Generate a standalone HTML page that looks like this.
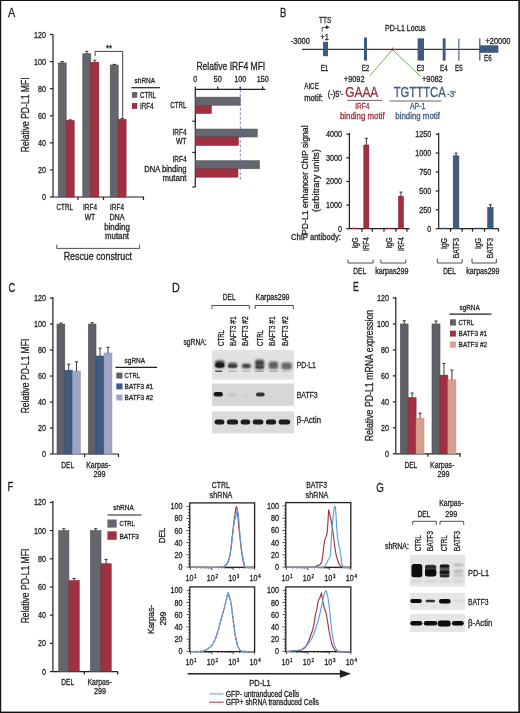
<!DOCTYPE html>
<html><head><meta charset="utf-8"><style>
html,body{margin:0;padding:0;background:#fff;}
body{width:520px;height:713px;overflow:hidden;font-family:"Liberation Sans",sans-serif;}
svg{display:block;opacity:0.999;}
</style></head><body>
<svg width="520" height="713" viewBox="0 0 520 713" font-family="Liberation Sans, sans-serif">
<defs><filter id="b1" x="-50%" y="-50%" width="200%" height="200%"><feGaussianBlur stdDeviation="0.9"/></filter><filter id="b2" x="-50%" y="-50%" width="200%" height="200%"><feGaussianBlur stdDeviation="1.5"/></filter><filter id="b3" x="-50%" y="-50%" width="200%" height="200%"><feGaussianBlur stdDeviation="0.6"/></filter></defs>
<rect x="0" y="0" width="520" height="713" fill="#ffffff"/>
<text transform="translate(8 16.55) scale(0.85 1)" font-size="12.72" text-anchor="start" fill="#231f20" stroke="#231f20" stroke-width="0.3">A</text>
<line x1="53" y1="34.5" x2="53" y2="197" stroke="#231f20" stroke-width="1.2"/>
<line x1="50" y1="197" x2="53" y2="197" stroke="#231f20" stroke-width="1.2"/>
<text transform="translate(46 200.04) scale(0.85 1)" font-size="8.48" text-anchor="end" fill="#231f20" stroke="#231f20" stroke-width="0.3">0</text>
<line x1="50" y1="169.92" x2="53" y2="169.92" stroke="#231f20" stroke-width="1.2"/>
<text transform="translate(46 172.95) scale(0.85 1)" font-size="8.48" text-anchor="end" fill="#231f20" stroke="#231f20" stroke-width="0.3">20</text>
<line x1="50" y1="142.83" x2="53" y2="142.83" stroke="#231f20" stroke-width="1.2"/>
<text transform="translate(46 145.87) scale(0.85 1)" font-size="8.48" text-anchor="end" fill="#231f20" stroke="#231f20" stroke-width="0.3">40</text>
<line x1="50" y1="115.75" x2="53" y2="115.75" stroke="#231f20" stroke-width="1.2"/>
<text transform="translate(46 118.79) scale(0.85 1)" font-size="8.48" text-anchor="end" fill="#231f20" stroke="#231f20" stroke-width="0.3">60</text>
<line x1="50" y1="88.67" x2="53" y2="88.67" stroke="#231f20" stroke-width="1.2"/>
<text transform="translate(46 91.7) scale(0.85 1)" font-size="8.48" text-anchor="end" fill="#231f20" stroke="#231f20" stroke-width="0.3">80</text>
<line x1="50" y1="61.58" x2="53" y2="61.58" stroke="#231f20" stroke-width="1.2"/>
<text transform="translate(46 64.62) scale(0.85 1)" font-size="8.48" text-anchor="end" fill="#231f20" stroke="#231f20" stroke-width="0.3">100</text>
<line x1="50" y1="34.5" x2="53" y2="34.5" stroke="#231f20" stroke-width="1.2"/>
<text transform="translate(46 37.54) scale(0.85 1)" font-size="8.48" text-anchor="end" fill="#231f20" stroke="#231f20" stroke-width="0.3">120</text>
<line x1="53" y1="197" x2="144" y2="197" stroke="#231f20" stroke-width="1.2"/>
<line x1="78" y1="197" x2="78" y2="200" stroke="#231f20" stroke-width="1.2"/>
<line x1="103.5" y1="197" x2="103.5" y2="200" stroke="#231f20" stroke-width="1.2"/>
<line x1="143.5" y1="197" x2="143.5" y2="200" stroke="#231f20" stroke-width="1.2"/>
<rect x="58.2" y="62.94" width="8" height="134.06" fill="#63666d" stroke="#4f5259" stroke-width="0.6"/>
<line x1="62.2" y1="62.94" x2="62.2" y2="61.5" stroke="#231f20" stroke-width="0.9"/>
<line x1="60.6" y1="61.5" x2="63.8" y2="61.5" stroke="#231f20" stroke-width="0.9"/>
<rect x="66.2" y="120.62" width="8" height="76.38" fill="#a03141" stroke="#8a2033" stroke-width="0.6"/>
<line x1="70.2" y1="120.62" x2="70.2" y2="119.83" stroke="#231f20" stroke-width="0.9"/>
<line x1="68.6" y1="119.83" x2="71.8" y2="119.83" stroke="#231f20" stroke-width="0.9"/>
<rect x="82.8" y="53.73" width="8" height="143.27" fill="#63666d" stroke="#4f5259" stroke-width="0.6"/>
<line x1="86.8" y1="53.73" x2="86.8" y2="51.3" stroke="#231f20" stroke-width="0.9"/>
<line x1="85.2" y1="51.3" x2="88.4" y2="51.3" stroke="#231f20" stroke-width="0.9"/>
<rect x="90.8" y="62.26" width="8" height="134.74" fill="#a03141" stroke="#8a2033" stroke-width="0.6"/>
<line x1="94.8" y1="62.26" x2="94.8" y2="60.2" stroke="#231f20" stroke-width="0.9"/>
<line x1="93.2" y1="60.2" x2="96.4" y2="60.2" stroke="#231f20" stroke-width="0.9"/>
<rect x="110.2" y="64.97" width="8" height="132.03" fill="#63666d" stroke="#4f5259" stroke-width="0.6"/>
<line x1="114.2" y1="64.97" x2="114.2" y2="64.37" stroke="#231f20" stroke-width="0.9"/>
<line x1="112.6" y1="64.37" x2="115.8" y2="64.37" stroke="#231f20" stroke-width="0.9"/>
<rect x="118.2" y="119.41" width="7.9" height="77.59" fill="#a03141" stroke="#8a2033" stroke-width="0.6"/>
<line x1="122.15" y1="119.41" x2="122.15" y2="118.41" stroke="#231f20" stroke-width="0.9"/>
<line x1="120.55" y1="118.41" x2="123.75" y2="118.41" stroke="#231f20" stroke-width="0.9"/>
<path d="M95.1 56 V51.4 H122.7 V117.7" stroke="#231f20" stroke-width="0.85" fill="none"/>
<text transform="translate(108.9 51.43) scale(0.86 1)" font-size="9.01" text-anchor="middle" fill="#231f20" stroke="#231f20" stroke-width="0.3">**</text>
<text transform="translate(134.6 82.85) scale(0.81 1)" font-size="7.95" text-anchor="start" fill="#231f20" stroke="#231f20" stroke-width="0.3">shRNA</text>
<line x1="131.4" y1="87.7" x2="160" y2="87.7" stroke="#231f20" stroke-width="1.2"/>
<rect x="131.9" y="92" width="5.3" height="5.8" fill="#63666d"/>
<rect x="131.9" y="103" width="5.3" height="5.9" fill="#a03141"/>
<text transform="translate(140 97.96) scale(0.74 1)" font-size="8.27" text-anchor="start" fill="#231f20" stroke="#231f20" stroke-width="0.3">CTRL</text>
<text transform="translate(140 108.96) scale(0.76 1)" font-size="8.27" text-anchor="start" fill="#231f20" stroke="#231f20" stroke-width="0.3">IRF4</text>
<text transform="translate(64.7 210.04) scale(0.74 1)" font-size="8.48" text-anchor="middle" fill="#231f20" stroke="#231f20" stroke-width="0.3">CTRL</text>
<text transform="translate(90 210.04) scale(0.76 1)" font-size="8.48" text-anchor="middle" fill="#231f20" stroke="#231f20" stroke-width="0.3">IRF4</text>
<text transform="translate(90 219.84) scale(0.8 1)" font-size="8.48" text-anchor="middle" fill="#231f20" stroke="#231f20" stroke-width="0.3">WT</text>
<text transform="translate(117 210.04) scale(0.76 1)" font-size="8.48" text-anchor="middle" fill="#231f20" stroke="#231f20" stroke-width="0.3">IRF4</text>
<text transform="translate(117 219.84) scale(0.85 1)" font-size="8.48" text-anchor="middle" fill="#231f20" stroke="#231f20" stroke-width="0.3">DNA</text>
<text transform="translate(117 229.64) scale(0.94 1)" font-size="8.48" text-anchor="middle" fill="#231f20" stroke="#231f20" stroke-width="0.3">binding</text>
<text transform="translate(117 239.44) scale(0.93 1)" font-size="8.48" text-anchor="middle" fill="#231f20" stroke="#231f20" stroke-width="0.3">mutant</text>
<path d="M56.8 244.6 V248.4 H139.6 V244.6" stroke="#231f20" stroke-width="0.8" fill="none"/>
<text transform="translate(97.85 259.84) scale(0.87 1)" font-size="10.18" text-anchor="middle" fill="#231f20" stroke="#231f20" stroke-width="0.3">Rescue construct</text>
<text transform="translate(25 114.8) rotate(-90) scale(0.77 1)" x="0" y="3.98" font-size="11.13" text-anchor="middle" fill="#231f20" stroke="#231f20" stroke-width="0.3">Relative PD-L1 MFI</text>
<text transform="translate(196.4 69.64) scale(0.84 1)" font-size="10.18" text-anchor="start" fill="#231f20" stroke="#231f20" stroke-width="0.3">Relative IRF4 MFI</text>
<line x1="195.3" y1="89.4" x2="265.4" y2="89.4" stroke="#231f20" stroke-width="1.2"/>
<line x1="195.3" y1="86.4" x2="195.3" y2="89.4" stroke="#231f20" stroke-width="1.2"/>
<text transform="translate(195.3 81.74) scale(0.85 1)" font-size="8.48" text-anchor="middle" fill="#231f20" stroke="#231f20" stroke-width="0.3">0</text>
<line x1="217.75" y1="86.4" x2="217.75" y2="89.4" stroke="#231f20" stroke-width="1.2"/>
<text transform="translate(217.75 81.74) scale(0.85 1)" font-size="8.48" text-anchor="middle" fill="#231f20" stroke="#231f20" stroke-width="0.3">50</text>
<line x1="240.2" y1="86.4" x2="240.2" y2="89.4" stroke="#231f20" stroke-width="1.2"/>
<text transform="translate(240.2 81.74) scale(0.85 1)" font-size="8.48" text-anchor="middle" fill="#231f20" stroke="#231f20" stroke-width="0.3">100</text>
<line x1="262.65" y1="86.4" x2="262.65" y2="89.4" stroke="#231f20" stroke-width="1.2"/>
<text transform="translate(262.65 81.74) scale(0.85 1)" font-size="8.48" text-anchor="middle" fill="#231f20" stroke="#231f20" stroke-width="0.3">150</text>
<line x1="195.3" y1="89.4" x2="195.3" y2="187" stroke="#231f20" stroke-width="1.2"/>
<line x1="192.3" y1="121.2" x2="195.3" y2="121.2" stroke="#231f20" stroke-width="1.2"/>
<line x1="192.3" y1="152.4" x2="195.3" y2="152.4" stroke="#231f20" stroke-width="1.2"/>
<line x1="192.3" y1="187" x2="195.3" y2="187" stroke="#231f20" stroke-width="1.2"/>
<rect x="195.3" y="97.1" width="44.9" height="8.2" fill="#63666d" stroke="#4f5259" stroke-width="0.5"/>
<rect x="195.3" y="105.3" width="16.2" height="8.2" fill="#a03141" stroke="#8a2033" stroke-width="0.5"/>
<rect x="195.3" y="129" width="62" height="8" fill="#63666d" stroke="#4f5259" stroke-width="0.5"/>
<rect x="195.3" y="137" width="43.2" height="8.5" fill="#a03141" stroke="#8a2033" stroke-width="0.5"/>
<rect x="195.3" y="160.6" width="64.2" height="8.2" fill="#63666d" stroke="#4f5259" stroke-width="0.5"/>
<rect x="195.3" y="168.8" width="42.7" height="8.4" fill="#a03141" stroke="#8a2033" stroke-width="0.5"/>
<line x1="240.3" y1="89.4" x2="240.3" y2="181.6" stroke="#5070a8" stroke-width="0.8" stroke-dasharray="2.8 1.8"/>
<text transform="translate(186.5 107.84) scale(0.74 1)" font-size="8.48" text-anchor="end" fill="#231f20" stroke="#231f20" stroke-width="0.3">CTRL</text>
<text transform="translate(186.5 135.34) scale(0.76 1)" font-size="8.48" text-anchor="end" fill="#231f20" stroke="#231f20" stroke-width="0.3">IRF4</text>
<text transform="translate(186.5 144.14) scale(0.8 1)" font-size="8.48" text-anchor="end" fill="#231f20" stroke="#231f20" stroke-width="0.3">WT</text>
<text transform="translate(186.5 161.84) scale(0.76 1)" font-size="8.48" text-anchor="end" fill="#231f20" stroke="#231f20" stroke-width="0.3">IRF4</text>
<text transform="translate(186.5 171.84) scale(0.9 1)" font-size="8.48" text-anchor="end" fill="#231f20" stroke="#231f20" stroke-width="0.3">DNA binding</text>
<text transform="translate(186.5 180.84) scale(0.93 1)" font-size="8.48" text-anchor="end" fill="#231f20" stroke="#231f20" stroke-width="0.3">mutant</text>
<text transform="translate(283.3 16.65) scale(0.75 1)" font-size="12.72" text-anchor="middle" fill="#231f20" stroke="#231f20" stroke-width="0.3">B</text>
<line x1="302" y1="49.3" x2="498" y2="49.3" stroke="#38383b" stroke-width="1.2"/>
<text transform="translate(300.3 43.94) scale(0.88 1)" font-size="8.48" text-anchor="middle" fill="#231f20" stroke="#231f20" stroke-width="0.3">-3000</text>
<text transform="translate(325.1 23.16) scale(0.78 1)" font-size="8.27" text-anchor="middle" fill="#231f20" stroke="#231f20" stroke-width="0.3">TTS</text>
<path d="M322.2 31.7 V27.3 H326.5" stroke="#231f20" stroke-width="0.8" fill="none"/>
<path d="M326 25.6 L329.4 27.3 L326 29 Z" stroke="#231f20" stroke-width="0.3" fill="#231f20"/>
<text transform="translate(324.6 40.34) scale(0.86 1)" font-size="8.48" text-anchor="middle" fill="#231f20" stroke="#231f20" stroke-width="0.3">+1</text>
<rect x="323" y="41.8" width="5" height="14.4" fill="#3e5a7e"/>
<rect x="364" y="37.5" width="3" height="23.1" fill="#3e5a7e"/>
<rect x="417.6" y="38.4" width="6.4" height="22.2" fill="#3e5a7e"/>
<rect x="442.7" y="38.4" width="2.9" height="22.2" fill="#3e5a7e"/>
<rect x="458.3" y="38.4" width="1.1" height="22.2" fill="#3e5a7e"/>
<rect x="479.2" y="38.4" width="1.2" height="22.2" fill="#3e5a7e"/>
<rect x="479.6" y="45.3" width="18.8" height="7.5" fill="#3e5a7e"/>
<text transform="translate(405.3 30.96) scale(0.85 1)" font-size="8.27" text-anchor="middle" fill="#231f20" stroke="#231f20" stroke-width="0.3">PD-L1 Locus</text>
<text transform="translate(485.4 44.24) scale(0.88 1)" font-size="8.48" text-anchor="start" fill="#231f20" stroke="#231f20" stroke-width="0.3">+20000</text>
<text transform="translate(324.5 71.16) scale(0.76 1)" font-size="8.27" text-anchor="middle" fill="#231f20" stroke="#231f20" stroke-width="0.3">E1</text>
<text transform="translate(365.5 71.16) scale(0.76 1)" font-size="8.27" text-anchor="middle" fill="#231f20" stroke="#231f20" stroke-width="0.3">E2</text>
<text transform="translate(420.5 71.16) scale(0.76 1)" font-size="8.27" text-anchor="middle" fill="#231f20" stroke="#231f20" stroke-width="0.3">E3</text>
<text transform="translate(443.8 71.16) scale(0.76 1)" font-size="8.27" text-anchor="middle" fill="#231f20" stroke="#231f20" stroke-width="0.3">E4</text>
<text transform="translate(458.8 71.16) scale(0.76 1)" font-size="8.27" text-anchor="middle" fill="#231f20" stroke="#231f20" stroke-width="0.3">E5</text>
<text transform="translate(484 60.86) scale(0.76 1)" font-size="8.27" text-anchor="start" fill="#231f20" stroke="#231f20" stroke-width="0.3">E6</text>
<line x1="369.8" y1="75.9" x2="392.5" y2="49.6" stroke="#62a83a" stroke-width="0.9"/>
<line x1="392.5" y1="49.6" x2="420.5" y2="76.4" stroke="#62a83a" stroke-width="0.9"/>
<line x1="392.5" y1="47.6" x2="392.5" y2="50.5" stroke="#b03040" stroke-width="0.9"/>
<text transform="translate(354.2 81.54) scale(0.87 1)" font-size="8.48" text-anchor="middle" fill="#231f20" stroke="#231f20" stroke-width="0.3">+9092</text>
<text transform="translate(422 81.54) scale(0.87 1)" font-size="8.48" text-anchor="start" fill="#231f20" stroke="#231f20" stroke-width="0.3">+9082</text>
<text transform="translate(304.2 89.36) scale(0.76 1)" font-size="8.27" text-anchor="start" fill="#231f20" stroke="#231f20" stroke-width="0.3">AICE</text>
<text transform="translate(304.2 100.76) scale(0.93 1)" font-size="8.27" text-anchor="start" fill="#231f20" stroke="#231f20" stroke-width="0.3">motif:</text>
<text transform="translate(327.7 96.54) scale(0.89 1)" font-size="8.48" text-anchor="start" fill="#231f20" stroke="#231f20" stroke-width="0.3">(-)5'-</text>
<text transform="translate(345.3 96.82) scale(0.83 1)" font-size="14.31" text-anchor="start" fill="#a03141" stroke="#a03141" stroke-width="0.3">GAAA</text>
<line x1="347.3" y1="100.4" x2="382.2" y2="100.4" stroke="#555" stroke-width="0.9"/>
<text transform="translate(362.3 109.34) scale(0.76 1)" font-size="8.48" text-anchor="middle" fill="#a03141" stroke="#a03141" stroke-width="0.3">IRF4</text>
<text transform="translate(362.3 119.04) scale(0.93 1)" font-size="8.48" text-anchor="middle" fill="#a03141" stroke="#a03141" stroke-width="0.3">binding motif</text>
<text transform="translate(393.7 96.82) scale(0.79 1)" font-size="14.31" text-anchor="start" fill="#3f5b80" stroke="#3f5b80" stroke-width="0.3">TGTTTCA</text>
<text transform="translate(447 96.54) scale(0.96 1)" font-size="8.48" text-anchor="start" fill="#3f5b80" stroke="#3f5b80" stroke-width="0.3">-3'</text>
<line x1="389.6" y1="101" x2="441.5" y2="101" stroke="#555" stroke-width="0.9"/>
<text transform="translate(417.6 109.34) scale(0.82 1)" font-size="8.48" text-anchor="middle" fill="#3f5b80" stroke="#3f5b80" stroke-width="0.3">AP-1</text>
<text transform="translate(417.6 119.04) scale(0.93 1)" font-size="8.48" text-anchor="middle" fill="#3f5b80" stroke="#3f5b80" stroke-width="0.3">binding motif</text>
<line x1="349.4" y1="132.9" x2="349.4" y2="228.7" stroke="#231f20" stroke-width="1.2"/>
<line x1="346.4" y1="228.7" x2="349.4" y2="228.7" stroke="#231f20" stroke-width="1.2"/>
<text transform="translate(342.1 231.74) scale(0.85 1)" font-size="8.48" text-anchor="end" fill="#231f20" stroke="#231f20" stroke-width="0.3">0</text>
<line x1="346.4" y1="205.07" x2="349.4" y2="205.07" stroke="#231f20" stroke-width="1.2"/>
<text transform="translate(342.1 208.11) scale(0.85 1)" font-size="8.48" text-anchor="end" fill="#231f20" stroke="#231f20" stroke-width="0.3">1000</text>
<line x1="346.4" y1="181.45" x2="349.4" y2="181.45" stroke="#231f20" stroke-width="1.2"/>
<text transform="translate(342.1 184.49) scale(0.85 1)" font-size="8.48" text-anchor="end" fill="#231f20" stroke="#231f20" stroke-width="0.3">2000</text>
<line x1="346.4" y1="157.82" x2="349.4" y2="157.82" stroke="#231f20" stroke-width="1.2"/>
<text transform="translate(342.1 160.86) scale(0.85 1)" font-size="8.48" text-anchor="end" fill="#231f20" stroke="#231f20" stroke-width="0.3">3000</text>
<line x1="346.4" y1="134.2" x2="349.4" y2="134.2" stroke="#231f20" stroke-width="1.2"/>
<text transform="translate(342.1 137.24) scale(0.85 1)" font-size="8.48" text-anchor="end" fill="#231f20" stroke="#231f20" stroke-width="0.3">4000</text>
<line x1="349.4" y1="228.7" x2="409.5" y2="228.7" stroke="#231f20" stroke-width="1.2"/>
<line x1="362" y1="228.7" x2="362" y2="231.7" stroke="#231f20" stroke-width="1.2"/>
<line x1="372.3" y1="228.7" x2="372.3" y2="231.7" stroke="#231f20" stroke-width="1.2"/>
<line x1="384" y1="228.7" x2="384" y2="231.7" stroke="#231f20" stroke-width="1.2"/>
<line x1="396" y1="228.7" x2="396" y2="231.7" stroke="#231f20" stroke-width="1.2"/>
<line x1="407" y1="228.7" x2="407" y2="231.7" stroke="#231f20" stroke-width="1.2"/>
<rect x="352.3" y="228.11" width="5.9" height="0.59" fill="#a03141" stroke="#8a2033" stroke-width="0.6"/>
<rect x="363.8" y="145.02" width="5.1" height="83.68" fill="#a03141" stroke="#8a2033" stroke-width="0.6"/>
<line x1="366.35" y1="145.02" x2="366.35" y2="138.3" stroke="#231f20" stroke-width="0.9"/>
<line x1="364.75" y1="138.3" x2="367.95" y2="138.3" stroke="#231f20" stroke-width="0.9"/>
<rect x="386.2" y="228.11" width="5.3" height="0.59" fill="#a03141" stroke="#8a2033" stroke-width="0.6"/>
<rect x="398.5" y="196.22" width="4.9" height="32.48" fill="#a03141" stroke="#8a2033" stroke-width="0.6"/>
<line x1="400.95" y1="196.22" x2="400.95" y2="192.1" stroke="#231f20" stroke-width="0.9"/>
<line x1="399.35" y1="192.1" x2="402.55" y2="192.1" stroke="#231f20" stroke-width="0.9"/>
<text transform="translate(355.4 237.3) rotate(-90) scale(0.83 1)" x="0" y="2.96" font-size="8.27" text-anchor="end" fill="#231f20" stroke="#231f20" stroke-width="0.3">IgG</text>
<text transform="translate(366.5 237.3) rotate(-90) scale(0.76 1)" x="0" y="2.96" font-size="8.27" text-anchor="end" fill="#231f20" stroke="#231f20" stroke-width="0.3">IRF4</text>
<text transform="translate(389.2 237.3) rotate(-90) scale(0.83 1)" x="0" y="2.96" font-size="8.27" text-anchor="end" fill="#231f20" stroke="#231f20" stroke-width="0.3">IgG</text>
<text transform="translate(400.8 237.3) rotate(-90) scale(0.76 1)" x="0" y="2.96" font-size="8.27" text-anchor="end" fill="#231f20" stroke="#231f20" stroke-width="0.3">IRF4</text>
<path d="M348 259.6 V263 H373.1 V259.6" stroke="#231f20" stroke-width="0.8" fill="none"/>
<path d="M380.8 259.6 V263 H405.8 V259.6" stroke="#231f20" stroke-width="0.8" fill="none"/>
<text transform="translate(359.7 273.74) scale(0.77 1)" font-size="8.48" text-anchor="middle" fill="#231f20" stroke="#231f20" stroke-width="0.3">DEL</text>
<text transform="translate(391.8 273.74) scale(0.84 1)" font-size="8.48" text-anchor="middle" fill="#231f20" stroke="#231f20" stroke-width="0.3">karpas299</text>
<text transform="translate(291 240.14) scale(0.9 1)" font-size="8.48" text-anchor="start" fill="#231f20" stroke="#231f20" stroke-width="0.3">ChIP antibody:</text>
<text transform="translate(304.4 180.2) rotate(-90) scale(0.88 1)" x="0" y="3.53" font-size="9.86" text-anchor="middle" fill="#231f20" stroke="#231f20" stroke-width="0.3">PD-L1 enhancer ChIP signal</text>
<text transform="translate(315.6 180.6) rotate(-90) scale(0.95 1)" x="0" y="3.53" font-size="9.86" text-anchor="middle" fill="#231f20" stroke="#231f20" stroke-width="0.3">(arbitrary units)</text>
<line x1="438.7" y1="132.9" x2="438.7" y2="228.7" stroke="#231f20" stroke-width="1.2"/>
<line x1="435.7" y1="228.7" x2="438.7" y2="228.7" stroke="#231f20" stroke-width="1.2"/>
<text transform="translate(431.2 231.74) scale(0.85 1)" font-size="8.48" text-anchor="end" fill="#231f20" stroke="#231f20" stroke-width="0.3">0</text>
<line x1="435.7" y1="209.8" x2="438.7" y2="209.8" stroke="#231f20" stroke-width="1.2"/>
<text transform="translate(431.2 212.84) scale(0.85 1)" font-size="8.48" text-anchor="end" fill="#231f20" stroke="#231f20" stroke-width="0.3">250</text>
<line x1="435.7" y1="190.9" x2="438.7" y2="190.9" stroke="#231f20" stroke-width="1.2"/>
<text transform="translate(431.2 193.94) scale(0.85 1)" font-size="8.48" text-anchor="end" fill="#231f20" stroke="#231f20" stroke-width="0.3">500</text>
<line x1="435.7" y1="172" x2="438.7" y2="172" stroke="#231f20" stroke-width="1.2"/>
<text transform="translate(431.2 175.04) scale(0.85 1)" font-size="8.48" text-anchor="end" fill="#231f20" stroke="#231f20" stroke-width="0.3">750</text>
<line x1="435.7" y1="153.1" x2="438.7" y2="153.1" stroke="#231f20" stroke-width="1.2"/>
<text transform="translate(431.2 156.14) scale(0.85 1)" font-size="8.48" text-anchor="end" fill="#231f20" stroke="#231f20" stroke-width="0.3">1000</text>
<line x1="435.7" y1="134.2" x2="438.7" y2="134.2" stroke="#231f20" stroke-width="1.2"/>
<text transform="translate(431.2 137.24) scale(0.85 1)" font-size="8.48" text-anchor="end" fill="#231f20" stroke="#231f20" stroke-width="0.3">1250</text>
<line x1="438.7" y1="228.7" x2="498.5" y2="228.7" stroke="#231f20" stroke-width="1.2"/>
<line x1="450.5" y1="228.7" x2="450.5" y2="231.7" stroke="#231f20" stroke-width="1.2"/>
<line x1="462.2" y1="228.7" x2="462.2" y2="231.7" stroke="#231f20" stroke-width="1.2"/>
<line x1="472.5" y1="228.7" x2="472.5" y2="231.7" stroke="#231f20" stroke-width="1.2"/>
<line x1="484.5" y1="228.7" x2="484.5" y2="231.7" stroke="#231f20" stroke-width="1.2"/>
<line x1="498.5" y1="228.7" x2="498.5" y2="231.7" stroke="#231f20" stroke-width="1.2"/>
<rect x="441.4" y="228.1" width="5.4" height="0.6" fill="#3f5b80" stroke="#324b6d" stroke-width="0.6"/>
<rect x="453.2" y="155.82" width="5.7" height="72.88" fill="#3f5b80" stroke="#324b6d" stroke-width="0.6"/>
<line x1="456.05" y1="155.82" x2="456.05" y2="153.1" stroke="#231f20" stroke-width="0.9"/>
<line x1="454.45" y1="153.1" x2="457.65" y2="153.1" stroke="#231f20" stroke-width="0.9"/>
<rect x="475.6" y="228.1" width="5.4" height="0.6" fill="#3f5b80" stroke="#324b6d" stroke-width="0.6"/>
<rect x="487.7" y="207.53" width="5.4" height="21.17" fill="#3f5b80" stroke="#324b6d" stroke-width="0.6"/>
<line x1="490.4" y1="207.53" x2="490.4" y2="204.8" stroke="#231f20" stroke-width="0.9"/>
<line x1="488.8" y1="204.8" x2="492" y2="204.8" stroke="#231f20" stroke-width="0.9"/>
<text transform="translate(444.1 237.9) rotate(-90) scale(0.83 1)" x="0" y="2.96" font-size="8.27" text-anchor="end" fill="#231f20" stroke="#231f20" stroke-width="0.3">IgG</text>
<text transform="translate(456.2 237.9) rotate(-90) scale(0.81 1)" x="0" y="2.96" font-size="8.27" text-anchor="end" fill="#231f20" stroke="#231f20" stroke-width="0.3">BATF3</text>
<text transform="translate(478.3 237.9) rotate(-90) scale(0.83 1)" x="0" y="2.96" font-size="8.27" text-anchor="end" fill="#231f20" stroke="#231f20" stroke-width="0.3">IgG</text>
<text transform="translate(490.4 237.9) rotate(-90) scale(0.81 1)" x="0" y="2.96" font-size="8.27" text-anchor="end" fill="#231f20" stroke="#231f20" stroke-width="0.3">BATF3</text>
<path d="M437.3 258.6 V263 H462.1 V258.6" stroke="#231f20" stroke-width="0.8" fill="none"/>
<path d="M472 258.6 V263 H496.3 V258.6" stroke="#231f20" stroke-width="0.8" fill="none"/>
<text transform="translate(449.5 273.74) scale(0.77 1)" font-size="8.48" text-anchor="middle" fill="#231f20" stroke="#231f20" stroke-width="0.3">DEL</text>
<text transform="translate(482.9 273.74) scale(0.84 1)" font-size="8.48" text-anchor="middle" fill="#231f20" stroke="#231f20" stroke-width="0.3">karpas299</text>
<text transform="translate(8.6 291.85) scale(0.74 1)" font-size="12.72" text-anchor="start" fill="#231f20" stroke="#231f20" stroke-width="0.3">C</text>
<line x1="52.9" y1="297" x2="52.9" y2="454" stroke="#231f20" stroke-width="1.2"/>
<line x1="49.9" y1="454" x2="52.9" y2="454" stroke="#231f20" stroke-width="1.2"/>
<text transform="translate(46 457.04) scale(0.85 1)" font-size="8.48" text-anchor="end" fill="#231f20" stroke="#231f20" stroke-width="0.3">0</text>
<line x1="49.9" y1="428.02" x2="52.9" y2="428.02" stroke="#231f20" stroke-width="1.2"/>
<text transform="translate(46 431.05) scale(0.85 1)" font-size="8.48" text-anchor="end" fill="#231f20" stroke="#231f20" stroke-width="0.3">20</text>
<line x1="49.9" y1="402.03" x2="52.9" y2="402.03" stroke="#231f20" stroke-width="1.2"/>
<text transform="translate(46 405.07) scale(0.85 1)" font-size="8.48" text-anchor="end" fill="#231f20" stroke="#231f20" stroke-width="0.3">40</text>
<line x1="49.9" y1="376.05" x2="52.9" y2="376.05" stroke="#231f20" stroke-width="1.2"/>
<text transform="translate(46 379.09) scale(0.85 1)" font-size="8.48" text-anchor="end" fill="#231f20" stroke="#231f20" stroke-width="0.3">60</text>
<line x1="49.9" y1="350.07" x2="52.9" y2="350.07" stroke="#231f20" stroke-width="1.2"/>
<text transform="translate(46 353.1) scale(0.85 1)" font-size="8.48" text-anchor="end" fill="#231f20" stroke="#231f20" stroke-width="0.3">80</text>
<line x1="49.9" y1="324.08" x2="52.9" y2="324.08" stroke="#231f20" stroke-width="1.2"/>
<text transform="translate(46 327.12) scale(0.85 1)" font-size="8.48" text-anchor="end" fill="#231f20" stroke="#231f20" stroke-width="0.3">100</text>
<line x1="49.9" y1="298.1" x2="52.9" y2="298.1" stroke="#231f20" stroke-width="1.2"/>
<text transform="translate(46 301.14) scale(0.85 1)" font-size="8.48" text-anchor="end" fill="#231f20" stroke="#231f20" stroke-width="0.3">120</text>
<line x1="52.9" y1="454" x2="118.5" y2="454" stroke="#231f20" stroke-width="1.2"/>
<line x1="84.6" y1="454" x2="84.6" y2="457" stroke="#231f20" stroke-width="1.2"/>
<line x1="118.5" y1="454" x2="118.5" y2="457" stroke="#231f20" stroke-width="1.2"/>
<rect x="57" y="324.08" width="7.8" height="129.92" fill="#5f6168" stroke="#4d4f55" stroke-width="0.6"/>
<line x1="60.9" y1="324.08" x2="60.9" y2="323.08" stroke="#231f20" stroke-width="0.9"/>
<line x1="59.3" y1="323.08" x2="62.5" y2="323.08" stroke="#231f20" stroke-width="0.9"/>
<rect x="64.8" y="370.2" width="7.8" height="83.8" fill="#3f5b80" stroke="#324b6d" stroke-width="0.6"/>
<line x1="68.7" y1="370.2" x2="68.7" y2="364.2" stroke="#231f20" stroke-width="0.9"/>
<line x1="67.1" y1="364.2" x2="70.3" y2="364.2" stroke="#231f20" stroke-width="0.9"/>
<rect x="72.6" y="371.11" width="7.7" height="82.89" fill="#a0a4c6" stroke="#8f93b6" stroke-width="0.6"/>
<line x1="76.45" y1="371.11" x2="76.45" y2="361.8" stroke="#231f20" stroke-width="0.9"/>
<line x1="74.85" y1="361.8" x2="78.05" y2="361.8" stroke="#231f20" stroke-width="0.9"/>
<rect x="88.4" y="324.08" width="7.6" height="129.92" fill="#5f6168" stroke="#4d4f55" stroke-width="0.6"/>
<line x1="92.2" y1="324.08" x2="92.2" y2="322.7" stroke="#231f20" stroke-width="0.9"/>
<line x1="90.6" y1="322.7" x2="93.8" y2="322.7" stroke="#231f20" stroke-width="0.9"/>
<rect x="96" y="356.04" width="8.1" height="97.96" fill="#3f5b80" stroke="#324b6d" stroke-width="0.6"/>
<line x1="100.05" y1="356.04" x2="100.05" y2="348.2" stroke="#231f20" stroke-width="0.9"/>
<line x1="98.45" y1="348.2" x2="101.65" y2="348.2" stroke="#231f20" stroke-width="0.9"/>
<rect x="104.1" y="353.05" width="7.8" height="100.95" fill="#a0a4c6" stroke="#8f93b6" stroke-width="0.6"/>
<line x1="108" y1="353.05" x2="108" y2="347.3" stroke="#231f20" stroke-width="0.9"/>
<line x1="106.4" y1="347.3" x2="109.6" y2="347.3" stroke="#231f20" stroke-width="0.9"/>
<text transform="translate(134.8 363.35) scale(0.81 1)" font-size="7.95" text-anchor="middle" fill="#231f20" stroke="#231f20" stroke-width="0.3">sgRNA</text>
<line x1="115.4" y1="367.3" x2="157" y2="367.3" stroke="#231f20" stroke-width="1.2"/>
<rect x="116.3" y="372.6" width="6.2" height="6" fill="#5f6168"/>
<rect x="116.3" y="383.4" width="6.2" height="6" fill="#3f5b80"/>
<rect x="116.3" y="394.5" width="6.2" height="6" fill="#a0a4c6"/>
<text transform="translate(124.6 378.45) scale(0.74 1)" font-size="7.95" text-anchor="start" fill="#231f20" stroke="#231f20" stroke-width="0.3">CTRL</text>
<text transform="translate(124.6 389.25) scale(0.81 1)" font-size="7.95" text-anchor="start" fill="#231f20" stroke="#231f20" stroke-width="0.3">BATF3 #1</text>
<text transform="translate(124.6 400.35) scale(0.81 1)" font-size="7.95" text-anchor="start" fill="#231f20" stroke="#231f20" stroke-width="0.3">BATF3 #2</text>
<text transform="translate(67.7 467.64) scale(0.77 1)" font-size="8.48" text-anchor="middle" fill="#231f20" stroke="#231f20" stroke-width="0.3">DEL</text>
<text transform="translate(98.4 467.64) scale(0.82 1)" font-size="8.48" text-anchor="middle" fill="#231f20" stroke="#231f20" stroke-width="0.3">Karpas-</text>
<text transform="translate(99.5 477.14) scale(0.85 1)" font-size="8.48" text-anchor="middle" fill="#231f20" stroke="#231f20" stroke-width="0.3">299</text>
<text transform="translate(25 376) rotate(-90) scale(0.77 1)" x="0" y="3.98" font-size="11.13" text-anchor="middle" fill="#231f20" stroke="#231f20" stroke-width="0.3">Relative PD-L1 MFI</text>
<text transform="translate(172.1 291.65) scale(0.85 1)" font-size="12.72" text-anchor="start" fill="#231f20" stroke="#231f20" stroke-width="0.3">D</text>
<text transform="translate(229.2 299.54) scale(0.77 1)" font-size="8.48" text-anchor="middle" fill="#231f20" stroke="#231f20" stroke-width="0.3">DEL</text>
<text transform="translate(272.5 299.54) scale(0.83 1)" font-size="8.48" text-anchor="middle" fill="#231f20" stroke="#231f20" stroke-width="0.3">Karpas299</text>
<path d="M211.9 309 V305.5 H249.3 V309" stroke="#231f20" stroke-width="0.8" fill="none"/>
<path d="M255.2 309 V305.5 H293.3 V309" stroke="#231f20" stroke-width="0.8" fill="none"/>
<text transform="translate(220.6 346) rotate(-90) scale(0.74 1)" x="0" y="2.96" font-size="8.27" text-anchor="start" fill="#231f20" stroke="#231f20" stroke-width="0.3">CTRL</text>
<text transform="translate(232.7 346) rotate(-90) scale(0.8 1)" x="0" y="2.96" font-size="8.27" text-anchor="start" fill="#231f20" stroke="#231f20" stroke-width="0.3">BAFT3 #1</text>
<text transform="translate(245.5 346) rotate(-90) scale(0.8 1)" x="0" y="2.96" font-size="8.27" text-anchor="start" fill="#231f20" stroke="#231f20" stroke-width="0.3">BAFT3 #2</text>
<text transform="translate(260.4 346) rotate(-90) scale(0.74 1)" x="0" y="2.96" font-size="8.27" text-anchor="start" fill="#231f20" stroke="#231f20" stroke-width="0.3">CTRL</text>
<text transform="translate(272.5 346) rotate(-90) scale(0.8 1)" x="0" y="2.96" font-size="8.27" text-anchor="start" fill="#231f20" stroke="#231f20" stroke-width="0.3">BAFT3 #1</text>
<text transform="translate(285.3 346) rotate(-90) scale(0.8 1)" x="0" y="2.96" font-size="8.27" text-anchor="start" fill="#231f20" stroke="#231f20" stroke-width="0.3">BAFT3 #2</text>
<text transform="translate(183.5 345.46) scale(0.81 1)" font-size="8.27" text-anchor="start" fill="#231f20" stroke="#231f20" stroke-width="0.3">sgRNA:</text>
<rect x="212" y="350" width="82" height="29.7" fill="#e3e2e3"/>
<rect x="212" y="383.4" width="82" height="22.5" fill="#d8d7d8"/>
<rect x="212" y="411.3" width="82" height="22.1" fill="#dcdbdc"/>
<rect x="215" y="360.6" width="9.6" height="7.4" rx="2.5" fill="#3a3a3a" opacity="1" filter="url(#b1)"/>
<rect x="215.3" y="362.9" width="9" height="4.6" rx="2.3" fill="#1a1a1a" opacity="1" filter="url(#b3)"/>
<rect x="227.9" y="362.5" width="9.4" height="5.6" rx="2.5" fill="#555555" opacity="1" filter="url(#b1)"/>
<rect x="228.2" y="364.8" width="8.8" height="2.8" rx="1.4" fill="#3a3a3a" opacity="1" filter="url(#b3)"/>
<rect x="241.8" y="363.8" width="9.2" height="4.4" rx="2.2" fill="#3a3a3a" opacity="1" filter="url(#b1)"/>
<rect x="255" y="359.4" width="9.2" height="10" rx="2.5" fill="#555555" opacity="1" filter="url(#b1)"/>
<rect x="256" y="361.5" width="7.5" height="3" rx="1.5" fill="#444444" opacity="1" filter="url(#b3)"/>
<rect x="256" y="365.75" width="7.5" height="2.5" rx="1.25" fill="#444444" opacity="1" filter="url(#b3)"/>
<rect x="268.7" y="361.55" width="9.4" height="7.5" rx="2.5" fill="#5e5e5e" opacity="1" filter="url(#b1)"/>
<rect x="281.4" y="362.5" width="10.5" height="7" rx="2.5" fill="#656565" opacity="1" filter="url(#b1)"/>
<rect x="215" y="370.6" width="7.5" height="1.4" rx="0.7" fill="#555" opacity="1" filter="url(#b3)"/>
<rect x="228" y="370.6" width="9" height="1.4" rx="0.7" fill="#b5b5b5" opacity="1" filter="url(#b3)"/>
<rect x="242" y="370.6" width="8" height="1.4" rx="0.7" fill="#bdbdbd" opacity="1" filter="url(#b3)"/>
<rect x="255" y="370.6" width="9" height="1.4" rx="0.7" fill="#a0a0a0" opacity="1" filter="url(#b3)"/>
<rect x="269" y="370.6" width="9" height="1.4" rx="0.7" fill="#b0b0b0" opacity="1" filter="url(#b3)"/>
<rect x="282" y="370.6" width="9" height="1.4" rx="0.7" fill="#c0c0c0" opacity="1" filter="url(#b3)"/>
<rect x="213.6" y="392.05" width="9.3" height="4.5" rx="2.25" fill="#151515" opacity="1" filter="url(#b3)"/>
<rect x="228" y="393.75" width="8" height="2.5" rx="1.25" fill="#bdbdbd" opacity="1" filter="url(#b1)"/>
<rect x="242" y="394.5" width="7" height="2" rx="1" fill="#c9c9c9" opacity="1" filter="url(#b1)"/>
<rect x="256" y="392.5" width="8.6" height="4" rx="2" fill="#333333" opacity="1" filter="url(#b3)"/>
<rect x="214.6" y="419.5" width="9.8" height="5" rx="2.5" fill="#1c1c1c" opacity="1" filter="url(#b3)"/>
<rect x="226.9" y="419.5" width="11.2" height="5" rx="2.5" fill="#1c1c1c" opacity="1" filter="url(#b3)"/>
<rect x="240.6" y="419.5" width="9.6" height="5" rx="2.5" fill="#1c1c1c" opacity="1" filter="url(#b3)"/>
<rect x="252.7" y="419.5" width="10.7" height="5" rx="2.5" fill="#1c1c1c" opacity="1" filter="url(#b3)"/>
<rect x="265.9" y="419.5" width="10.2" height="5" rx="2.5" fill="#1c1c1c" opacity="1" filter="url(#b3)"/>
<rect x="278.6" y="419.5" width="11.6" height="5" rx="2.5" fill="#1c1c1c" opacity="1" filter="url(#b3)"/>
<text transform="translate(296.7 367.76) scale(0.74 1)" font-size="9.12" text-anchor="start" fill="#231f20" stroke="#231f20" stroke-width="0.3">PD-L1</text>
<text transform="translate(296.7 397.76) scale(0.76 1)" font-size="9.12" text-anchor="start" fill="#231f20" stroke="#231f20" stroke-width="0.3">BATF3</text>
<text transform="translate(296.7 423.16) scale(0.85 1)" font-size="9.12" text-anchor="start" fill="#231f20" stroke="#231f20" stroke-width="0.3">β-Actin</text>
<text transform="translate(353 291.25) scale(0.68 1)" font-size="12.72" text-anchor="start" fill="#231f20" stroke="#231f20" stroke-width="0.3">E</text>
<line x1="395.8" y1="297" x2="395.8" y2="453.8" stroke="#231f20" stroke-width="1.2"/>
<line x1="392.8" y1="453.8" x2="395.8" y2="453.8" stroke="#231f20" stroke-width="1.2"/>
<text transform="translate(389 456.84) scale(0.85 1)" font-size="8.48" text-anchor="end" fill="#231f20" stroke="#231f20" stroke-width="0.3">0</text>
<line x1="392.8" y1="427.83" x2="395.8" y2="427.83" stroke="#231f20" stroke-width="1.2"/>
<text transform="translate(389 430.87) scale(0.85 1)" font-size="8.48" text-anchor="end" fill="#231f20" stroke="#231f20" stroke-width="0.3">20</text>
<line x1="392.8" y1="401.87" x2="395.8" y2="401.87" stroke="#231f20" stroke-width="1.2"/>
<text transform="translate(389 404.9) scale(0.85 1)" font-size="8.48" text-anchor="end" fill="#231f20" stroke="#231f20" stroke-width="0.3">40</text>
<line x1="392.8" y1="375.9" x2="395.8" y2="375.9" stroke="#231f20" stroke-width="1.2"/>
<text transform="translate(389 378.94) scale(0.85 1)" font-size="8.48" text-anchor="end" fill="#231f20" stroke="#231f20" stroke-width="0.3">60</text>
<line x1="392.8" y1="349.93" x2="395.8" y2="349.93" stroke="#231f20" stroke-width="1.2"/>
<text transform="translate(389 352.97) scale(0.85 1)" font-size="8.48" text-anchor="end" fill="#231f20" stroke="#231f20" stroke-width="0.3">80</text>
<line x1="392.8" y1="323.97" x2="395.8" y2="323.97" stroke="#231f20" stroke-width="1.2"/>
<text transform="translate(389 327) scale(0.85 1)" font-size="8.48" text-anchor="end" fill="#231f20" stroke="#231f20" stroke-width="0.3">100</text>
<line x1="392.8" y1="298" x2="395.8" y2="298" stroke="#231f20" stroke-width="1.2"/>
<text transform="translate(389 301.04) scale(0.85 1)" font-size="8.48" text-anchor="end" fill="#231f20" stroke="#231f20" stroke-width="0.3">120</text>
<line x1="395.8" y1="453.8" x2="460.5" y2="453.8" stroke="#231f20" stroke-width="1.2"/>
<line x1="427.9" y1="453.8" x2="427.9" y2="456.8" stroke="#231f20" stroke-width="1.2"/>
<line x1="460.2" y1="453.8" x2="460.2" y2="456.8" stroke="#231f20" stroke-width="1.2"/>
<rect x="400.4" y="323.97" width="7.7" height="129.83" fill="#5f6168" stroke="#4d4f55" stroke-width="0.6"/>
<line x1="404.25" y1="323.97" x2="404.25" y2="320.7" stroke="#231f20" stroke-width="0.9"/>
<line x1="402.65" y1="320.7" x2="405.85" y2="320.7" stroke="#231f20" stroke-width="0.9"/>
<rect x="408.1" y="397.71" width="8" height="56.09" fill="#a03141" stroke="#8a2033" stroke-width="0.6"/>
<line x1="412.1" y1="397.71" x2="412.1" y2="393" stroke="#231f20" stroke-width="0.9"/>
<line x1="410.5" y1="393" x2="413.7" y2="393" stroke="#231f20" stroke-width="0.9"/>
<rect x="416.1" y="418.23" width="7.9" height="35.57" fill="#d6a090" stroke="#c98d7c" stroke-width="0.6"/>
<line x1="420.05" y1="418.23" x2="420.05" y2="413.1" stroke="#231f20" stroke-width="0.9"/>
<line x1="418.45" y1="413.1" x2="421.65" y2="413.1" stroke="#231f20" stroke-width="0.9"/>
<rect x="432" y="323.97" width="8" height="129.83" fill="#5f6168" stroke="#4d4f55" stroke-width="0.6"/>
<line x1="436" y1="323.97" x2="436" y2="321" stroke="#231f20" stroke-width="0.9"/>
<line x1="434.4" y1="321" x2="437.6" y2="321" stroke="#231f20" stroke-width="0.9"/>
<rect x="440" y="375.12" width="7.9" height="78.68" fill="#a03141" stroke="#8a2033" stroke-width="0.6"/>
<line x1="443.95" y1="375.12" x2="443.95" y2="363.4" stroke="#231f20" stroke-width="0.9"/>
<line x1="442.35" y1="363.4" x2="445.55" y2="363.4" stroke="#231f20" stroke-width="0.9"/>
<rect x="447.9" y="379.8" width="8" height="74" fill="#d6a090" stroke="#c98d7c" stroke-width="0.6"/>
<line x1="451.9" y1="379.8" x2="451.9" y2="370" stroke="#231f20" stroke-width="0.9"/>
<line x1="450.3" y1="370" x2="453.5" y2="370" stroke="#231f20" stroke-width="0.9"/>
<text transform="translate(469.6 310.05) scale(0.81 1)" font-size="7.95" text-anchor="middle" fill="#231f20" stroke="#231f20" stroke-width="0.3">sgRNA</text>
<line x1="449.5" y1="314.1" x2="491.5" y2="314.1" stroke="#231f20" stroke-width="1.2"/>
<rect x="450" y="319.3" width="5.9" height="6.3" fill="#5f6168"/>
<rect x="450" y="330.7" width="5.9" height="5.9" fill="#a03141"/>
<rect x="450" y="341.5" width="5.9" height="6.1" fill="#d6a090"/>
<text transform="translate(458.6 324.65) scale(0.74 1)" font-size="7.95" text-anchor="start" fill="#231f20" stroke="#231f20" stroke-width="0.3">CTRL</text>
<text transform="translate(458.6 336.35) scale(0.81 1)" font-size="7.95" text-anchor="start" fill="#231f20" stroke="#231f20" stroke-width="0.3">BATF3 #1</text>
<text transform="translate(458.6 347.25) scale(0.81 1)" font-size="7.95" text-anchor="start" fill="#231f20" stroke="#231f20" stroke-width="0.3">BATF3 #2</text>
<text transform="translate(410.9 467.64) scale(0.77 1)" font-size="8.48" text-anchor="middle" fill="#231f20" stroke="#231f20" stroke-width="0.3">DEL</text>
<text transform="translate(442.2 467.64) scale(0.82 1)" font-size="8.48" text-anchor="middle" fill="#231f20" stroke="#231f20" stroke-width="0.3">Karpas-</text>
<text transform="translate(443.4 477.04) scale(0.85 1)" font-size="8.48" text-anchor="middle" fill="#231f20" stroke="#231f20" stroke-width="0.3">299</text>
<text transform="translate(369.5 375.5) rotate(-90) scale(0.81 1)" x="0" y="3.87" font-size="10.81" text-anchor="middle" fill="#231f20" stroke="#231f20" stroke-width="0.3">Relative PD-L1 mRNA expression</text>
<text transform="translate(7.5 490.95) scale(0.74 1)" font-size="12.72" text-anchor="start" fill="#231f20" stroke="#231f20" stroke-width="0.3">F</text>
<line x1="52.9" y1="501" x2="52.9" y2="671.6" stroke="#231f20" stroke-width="1.2"/>
<line x1="49.9" y1="671.6" x2="52.9" y2="671.6" stroke="#231f20" stroke-width="1.2"/>
<text transform="translate(46 674.64) scale(0.85 1)" font-size="8.48" text-anchor="end" fill="#231f20" stroke="#231f20" stroke-width="0.3">0</text>
<line x1="49.9" y1="643.4" x2="52.9" y2="643.4" stroke="#231f20" stroke-width="1.2"/>
<text transform="translate(46 646.44) scale(0.85 1)" font-size="8.48" text-anchor="end" fill="#231f20" stroke="#231f20" stroke-width="0.3">20</text>
<line x1="49.9" y1="615.2" x2="52.9" y2="615.2" stroke="#231f20" stroke-width="1.2"/>
<text transform="translate(46 618.24) scale(0.85 1)" font-size="8.48" text-anchor="end" fill="#231f20" stroke="#231f20" stroke-width="0.3">40</text>
<line x1="49.9" y1="587" x2="52.9" y2="587" stroke="#231f20" stroke-width="1.2"/>
<text transform="translate(46 590.04) scale(0.85 1)" font-size="8.48" text-anchor="end" fill="#231f20" stroke="#231f20" stroke-width="0.3">60</text>
<line x1="49.9" y1="558.8" x2="52.9" y2="558.8" stroke="#231f20" stroke-width="1.2"/>
<text transform="translate(46 561.84) scale(0.85 1)" font-size="8.48" text-anchor="end" fill="#231f20" stroke="#231f20" stroke-width="0.3">80</text>
<line x1="49.9" y1="530.6" x2="52.9" y2="530.6" stroke="#231f20" stroke-width="1.2"/>
<text transform="translate(46 533.64) scale(0.85 1)" font-size="8.48" text-anchor="end" fill="#231f20" stroke="#231f20" stroke-width="0.3">100</text>
<line x1="49.9" y1="502.4" x2="52.9" y2="502.4" stroke="#231f20" stroke-width="1.2"/>
<text transform="translate(46 505.44) scale(0.85 1)" font-size="8.48" text-anchor="end" fill="#231f20" stroke="#231f20" stroke-width="0.3">120</text>
<line x1="52.9" y1="671.6" x2="117.7" y2="671.6" stroke="#231f20" stroke-width="1.2"/>
<line x1="84.3" y1="671.6" x2="84.3" y2="674.6" stroke="#231f20" stroke-width="1.2"/>
<line x1="117.7" y1="671.6" x2="117.7" y2="674.6" stroke="#231f20" stroke-width="1.2"/>
<rect x="58.7" y="530.6" width="10.2" height="141" fill="#63666d" stroke="#4f5259" stroke-width="0.6"/>
<line x1="63.8" y1="530.6" x2="63.8" y2="528.7" stroke="#231f20" stroke-width="0.9"/>
<line x1="62.2" y1="528.7" x2="65.4" y2="528.7" stroke="#231f20" stroke-width="0.9"/>
<rect x="68.9" y="580.65" width="10.3" height="90.95" fill="#a03141" stroke="#8a2033" stroke-width="0.6"/>
<line x1="74.05" y1="580.65" x2="74.05" y2="578.5" stroke="#231f20" stroke-width="0.9"/>
<line x1="72.45" y1="578.5" x2="75.65" y2="578.5" stroke="#231f20" stroke-width="0.9"/>
<rect x="90.4" y="530.6" width="10.6" height="141" fill="#63666d" stroke="#4f5259" stroke-width="0.6"/>
<line x1="95.7" y1="530.6" x2="95.7" y2="528.7" stroke="#231f20" stroke-width="0.9"/>
<line x1="94.1" y1="528.7" x2="97.3" y2="528.7" stroke="#231f20" stroke-width="0.9"/>
<rect x="101" y="563.74" width="10.2" height="107.87" fill="#a03141" stroke="#8a2033" stroke-width="0.6"/>
<line x1="106.1" y1="563.74" x2="106.1" y2="559.4" stroke="#231f20" stroke-width="0.9"/>
<line x1="104.5" y1="559.4" x2="107.7" y2="559.4" stroke="#231f20" stroke-width="0.9"/>
<text transform="translate(67.7 685.14) scale(0.77 1)" font-size="8.48" text-anchor="middle" fill="#231f20" stroke="#231f20" stroke-width="0.3">DEL</text>
<text transform="translate(99.6 685.24) scale(0.82 1)" font-size="8.48" text-anchor="middle" fill="#231f20" stroke="#231f20" stroke-width="0.3">Karpas-</text>
<text transform="translate(99.9 694.44) scale(0.85 1)" font-size="8.48" text-anchor="middle" fill="#231f20" stroke="#231f20" stroke-width="0.3">299</text>
<text transform="translate(123.5 510.35) scale(0.81 1)" font-size="7.95" text-anchor="middle" fill="#231f20" stroke="#231f20" stroke-width="0.3">shRNA</text>
<line x1="107.5" y1="515" x2="141.6" y2="515" stroke="#231f20" stroke-width="1.2"/>
<rect x="107.4" y="519.5" width="9.3" height="8.1" fill="#63666d"/>
<rect x="107.4" y="531.3" width="9.3" height="8.5" fill="#a03141"/>
<text transform="translate(119.4 526.25) scale(0.74 1)" font-size="7.95" text-anchor="start" fill="#231f20" stroke="#231f20" stroke-width="0.3">CTRL</text>
<text transform="translate(119.4 538.55) scale(0.81 1)" font-size="7.95" text-anchor="start" fill="#231f20" stroke="#231f20" stroke-width="0.3">BATF3</text>
<text transform="translate(25.4 586) rotate(-90) scale(0.77 1)" x="0" y="3.98" font-size="11.13" text-anchor="middle" fill="#231f20" stroke="#231f20" stroke-width="0.3">Relative PD-L1 MFI</text>
<text transform="translate(220.8 488.49) scale(0.77 1)" font-size="8.9" text-anchor="middle" fill="#231f20" stroke="#231f20" stroke-width="0.3">CTRL</text>
<text transform="translate(221 497.79) scale(0.81 1)" font-size="8.9" text-anchor="middle" fill="#231f20" stroke="#231f20" stroke-width="0.3">shRNA</text>
<text transform="translate(316.7 488.29) scale(0.77 1)" font-size="8.9" text-anchor="middle" fill="#231f20" stroke="#231f20" stroke-width="0.3">BATF3</text>
<text transform="translate(317 497.79) scale(0.81 1)" font-size="8.9" text-anchor="middle" fill="#231f20" stroke="#231f20" stroke-width="0.3">shRNA</text>
<rect x="189.8" y="502.9" width="64.8" height="64.4" fill="none" stroke="#231f20" stroke-width="1.3"/>
<line x1="186.6" y1="567" x2="189.8" y2="567" stroke="#231f20" stroke-width="0.8"/>
<text transform="translate(182.4 570.04) scale(0.85 1)" font-size="8.48" text-anchor="end" fill="#231f20" stroke="#231f20" stroke-width="0.3">0</text>
<line x1="188.1" y1="563.97" x2="189.8" y2="563.97" stroke="#231f20" stroke-width="0.9"/>
<line x1="188.1" y1="560.93" x2="189.8" y2="560.93" stroke="#231f20" stroke-width="0.9"/>
<line x1="188.1" y1="557.89" x2="189.8" y2="557.89" stroke="#231f20" stroke-width="0.9"/>
<line x1="186.6" y1="554.86" x2="189.8" y2="554.86" stroke="#231f20" stroke-width="0.8"/>
<text transform="translate(182.4 557.9) scale(0.85 1)" font-size="8.48" text-anchor="end" fill="#231f20" stroke="#231f20" stroke-width="0.3">20</text>
<line x1="188.1" y1="551.83" x2="189.8" y2="551.83" stroke="#231f20" stroke-width="0.9"/>
<line x1="188.1" y1="548.79" x2="189.8" y2="548.79" stroke="#231f20" stroke-width="0.9"/>
<line x1="188.1" y1="545.75" x2="189.8" y2="545.75" stroke="#231f20" stroke-width="0.9"/>
<line x1="186.6" y1="542.72" x2="189.8" y2="542.72" stroke="#231f20" stroke-width="0.8"/>
<text transform="translate(182.4 545.76) scale(0.85 1)" font-size="8.48" text-anchor="end" fill="#231f20" stroke="#231f20" stroke-width="0.3">40</text>
<line x1="188.1" y1="539.68" x2="189.8" y2="539.68" stroke="#231f20" stroke-width="0.9"/>
<line x1="188.1" y1="536.65" x2="189.8" y2="536.65" stroke="#231f20" stroke-width="0.9"/>
<line x1="188.1" y1="533.62" x2="189.8" y2="533.62" stroke="#231f20" stroke-width="0.9"/>
<line x1="186.6" y1="530.58" x2="189.8" y2="530.58" stroke="#231f20" stroke-width="0.8"/>
<text transform="translate(182.4 533.62) scale(0.85 1)" font-size="8.48" text-anchor="end" fill="#231f20" stroke="#231f20" stroke-width="0.3">60</text>
<line x1="188.1" y1="527.54" x2="189.8" y2="527.54" stroke="#231f20" stroke-width="0.9"/>
<line x1="188.1" y1="524.51" x2="189.8" y2="524.51" stroke="#231f20" stroke-width="0.9"/>
<line x1="188.1" y1="521.47" x2="189.8" y2="521.47" stroke="#231f20" stroke-width="0.9"/>
<line x1="186.6" y1="518.44" x2="189.8" y2="518.44" stroke="#231f20" stroke-width="0.8"/>
<text transform="translate(182.4 521.48) scale(0.85 1)" font-size="8.48" text-anchor="end" fill="#231f20" stroke="#231f20" stroke-width="0.3">80</text>
<line x1="188.1" y1="515.4" x2="189.8" y2="515.4" stroke="#231f20" stroke-width="0.9"/>
<line x1="188.1" y1="512.37" x2="189.8" y2="512.37" stroke="#231f20" stroke-width="0.9"/>
<line x1="188.1" y1="509.33" x2="189.8" y2="509.33" stroke="#231f20" stroke-width="0.9"/>
<line x1="186.6" y1="506.3" x2="189.8" y2="506.3" stroke="#231f20" stroke-width="0.8"/>
<text transform="translate(182.4 509.34) scale(0.85 1)" font-size="8.48" text-anchor="end" fill="#231f20" stroke="#231f20" stroke-width="0.3">100</text>
<line x1="190.4" y1="567.3" x2="190.4" y2="570" stroke="#231f20" stroke-width="0.8"/>
<line x1="196.84" y1="567.3" x2="196.84" y2="568.7" stroke="#231f20" stroke-width="0.6"/>
<line x1="200.61" y1="567.3" x2="200.61" y2="568.7" stroke="#231f20" stroke-width="0.6"/>
<line x1="203.28" y1="567.3" x2="203.28" y2="568.7" stroke="#231f20" stroke-width="0.6"/>
<line x1="205.36" y1="567.3" x2="205.36" y2="568.7" stroke="#231f20" stroke-width="0.6"/>
<line x1="207.05" y1="567.3" x2="207.05" y2="568.7" stroke="#231f20" stroke-width="0.6"/>
<line x1="208.49" y1="567.3" x2="208.49" y2="568.7" stroke="#231f20" stroke-width="0.6"/>
<line x1="209.73" y1="567.3" x2="209.73" y2="568.7" stroke="#231f20" stroke-width="0.6"/>
<line x1="210.82" y1="567.3" x2="210.82" y2="568.7" stroke="#231f20" stroke-width="0.6"/>
<line x1="211.8" y1="567.3" x2="211.8" y2="570" stroke="#231f20" stroke-width="0.8"/>
<line x1="218.24" y1="567.3" x2="218.24" y2="568.7" stroke="#231f20" stroke-width="0.6"/>
<line x1="222.01" y1="567.3" x2="222.01" y2="568.7" stroke="#231f20" stroke-width="0.6"/>
<line x1="224.68" y1="567.3" x2="224.68" y2="568.7" stroke="#231f20" stroke-width="0.6"/>
<line x1="226.76" y1="567.3" x2="226.76" y2="568.7" stroke="#231f20" stroke-width="0.6"/>
<line x1="228.45" y1="567.3" x2="228.45" y2="568.7" stroke="#231f20" stroke-width="0.6"/>
<line x1="229.89" y1="567.3" x2="229.89" y2="568.7" stroke="#231f20" stroke-width="0.6"/>
<line x1="231.13" y1="567.3" x2="231.13" y2="568.7" stroke="#231f20" stroke-width="0.6"/>
<line x1="232.22" y1="567.3" x2="232.22" y2="568.7" stroke="#231f20" stroke-width="0.6"/>
<line x1="233.2" y1="567.3" x2="233.2" y2="570" stroke="#231f20" stroke-width="0.8"/>
<line x1="239.64" y1="567.3" x2="239.64" y2="568.7" stroke="#231f20" stroke-width="0.6"/>
<line x1="243.41" y1="567.3" x2="243.41" y2="568.7" stroke="#231f20" stroke-width="0.6"/>
<line x1="246.08" y1="567.3" x2="246.08" y2="568.7" stroke="#231f20" stroke-width="0.6"/>
<line x1="248.16" y1="567.3" x2="248.16" y2="568.7" stroke="#231f20" stroke-width="0.6"/>
<line x1="249.85" y1="567.3" x2="249.85" y2="568.7" stroke="#231f20" stroke-width="0.6"/>
<line x1="251.29" y1="567.3" x2="251.29" y2="568.7" stroke="#231f20" stroke-width="0.6"/>
<line x1="252.53" y1="567.3" x2="252.53" y2="568.7" stroke="#231f20" stroke-width="0.6"/>
<line x1="253.62" y1="567.3" x2="253.62" y2="568.7" stroke="#231f20" stroke-width="0.6"/>
<line x1="254.6" y1="567.3" x2="254.6" y2="570" stroke="#231f20" stroke-width="0.8"/>
<text transform="translate(189.4 580.64) scale(0.85 1)" font-size="8.48" text-anchor="middle" fill="#231f20" stroke="#231f20" stroke-width="0.3">10</text>
<text transform="translate(194 577.7) scale(0.85 1)" font-size="5.3" text-anchor="start" fill="#231f20" stroke="#231f20" stroke-width="0.3">1</text>
<text transform="translate(210.8 580.64) scale(0.85 1)" font-size="8.48" text-anchor="middle" fill="#231f20" stroke="#231f20" stroke-width="0.3">10</text>
<text transform="translate(215.4 577.7) scale(0.85 1)" font-size="5.3" text-anchor="start" fill="#231f20" stroke="#231f20" stroke-width="0.3">2</text>
<text transform="translate(232.2 580.64) scale(0.85 1)" font-size="8.48" text-anchor="middle" fill="#231f20" stroke="#231f20" stroke-width="0.3">10</text>
<text transform="translate(236.8 577.7) scale(0.85 1)" font-size="5.3" text-anchor="start" fill="#231f20" stroke="#231f20" stroke-width="0.3">3</text>
<text transform="translate(253.6 580.64) scale(0.85 1)" font-size="8.48" text-anchor="middle" fill="#231f20" stroke="#231f20" stroke-width="0.3">10</text>
<text transform="translate(258.2 577.7) scale(0.85 1)" font-size="5.3" text-anchor="start" fill="#231f20" stroke="#231f20" stroke-width="0.3">4</text>
<path d="M190.5 567.4 C195.57 567.4 215.18 567.63 220.9 567.4 C226.62 567.17 223.73 566.68 224.8 566 C225.87 565.32 226.55 564.57 227.3 563.3 C228.05 562.03 228.73 560.62 229.3 558.4 C229.87 556.18 230.3 552.87 230.7 550 C231.1 547.13 231.37 544.13 231.7 541.2 C232.03 538.27 232.37 535.33 232.7 532.4 C233.03 529.47 233.37 526.22 233.7 523.6 C234.03 520.98 234.38 519 234.7 516.7 C235.02 514.4 235.32 511.52 235.6 509.8 C235.88 508.08 236.13 506.4 236.4 506.4 C236.67 506.4 236.9 507.6 237.2 509.8 C237.5 512 237.87 516.15 238.2 519.6 C238.53 523.05 238.83 526.88 239.2 530.5 C239.57 534.12 240.02 537.87 240.4 541.3 C240.78 544.73 241.08 548 241.5 551.1 C241.92 554.2 242.4 557.45 242.9 559.9 C243.4 562.35 244.07 564.55 244.5 565.8 C244.93 567.05 243.92 567.13 245.5 567.4 C247.08 567.67 252.58 567.4 254 567.4" stroke="#a8323f" stroke-width="1.15" fill="none" stroke-linejoin="round"/>
<path d="M190.5 567.4 C195.57 567.38 215.18 567.57 220.9 567.3 C226.62 567.03 223.73 566.55 224.8 565.8 C225.87 565.05 226.55 564.12 227.3 562.8 C228.05 561.48 228.73 559.87 229.3 557.9 C229.87 555.93 230.27 553.62 230.7 551 C231.13 548.38 231.53 545.13 231.9 542.2 C232.27 539.27 232.57 536.35 232.9 533.4 C233.23 530.45 233.6 526.72 233.9 524.5 C234.2 522.28 234.42 521.23 234.7 520.1 C234.98 518.97 235.28 518.92 235.6 517.7 C235.92 516.48 236.3 514.03 236.6 512.8 C236.9 511.57 237.1 509.98 237.4 510.3 C237.7 510.62 238.1 512.33 238.4 514.7 C238.7 517.07 238.9 520.73 239.2 524.5 C239.5 528.27 239.85 533.53 240.2 537.3 C240.55 541.07 240.88 543.83 241.3 547.1 C241.72 550.37 242.2 554.12 242.7 556.9 C243.2 559.68 243.8 562.07 244.3 563.8 C244.8 565.53 244.08 566.7 245.7 567.3 C247.32 567.9 252.62 567.38 254 567.4" stroke="#5b9fd6" stroke-width="1.15" fill="none" stroke-linejoin="round"/>
<rect x="285.8" y="502.6" width="65" height="64.7" fill="none" stroke="#231f20" stroke-width="1.3"/>
<line x1="282.6" y1="567" x2="285.8" y2="567" stroke="#231f20" stroke-width="0.8"/>
<text transform="translate(279 570.04) scale(0.85 1)" font-size="8.48" text-anchor="end" fill="#231f20" stroke="#231f20" stroke-width="0.3">0</text>
<line x1="284.1" y1="563.95" x2="285.8" y2="563.95" stroke="#231f20" stroke-width="0.9"/>
<line x1="284.1" y1="560.9" x2="285.8" y2="560.9" stroke="#231f20" stroke-width="0.9"/>
<line x1="284.1" y1="557.85" x2="285.8" y2="557.85" stroke="#231f20" stroke-width="0.9"/>
<line x1="282.6" y1="554.8" x2="285.8" y2="554.8" stroke="#231f20" stroke-width="0.8"/>
<text transform="translate(279 557.84) scale(0.85 1)" font-size="8.48" text-anchor="end" fill="#231f20" stroke="#231f20" stroke-width="0.3">20</text>
<line x1="284.1" y1="551.75" x2="285.8" y2="551.75" stroke="#231f20" stroke-width="0.9"/>
<line x1="284.1" y1="548.7" x2="285.8" y2="548.7" stroke="#231f20" stroke-width="0.9"/>
<line x1="284.1" y1="545.65" x2="285.8" y2="545.65" stroke="#231f20" stroke-width="0.9"/>
<line x1="282.6" y1="542.6" x2="285.8" y2="542.6" stroke="#231f20" stroke-width="0.8"/>
<text transform="translate(279 545.64) scale(0.85 1)" font-size="8.48" text-anchor="end" fill="#231f20" stroke="#231f20" stroke-width="0.3">40</text>
<line x1="284.1" y1="539.55" x2="285.8" y2="539.55" stroke="#231f20" stroke-width="0.9"/>
<line x1="284.1" y1="536.5" x2="285.8" y2="536.5" stroke="#231f20" stroke-width="0.9"/>
<line x1="284.1" y1="533.45" x2="285.8" y2="533.45" stroke="#231f20" stroke-width="0.9"/>
<line x1="282.6" y1="530.4" x2="285.8" y2="530.4" stroke="#231f20" stroke-width="0.8"/>
<text transform="translate(279 533.44) scale(0.85 1)" font-size="8.48" text-anchor="end" fill="#231f20" stroke="#231f20" stroke-width="0.3">60</text>
<line x1="284.1" y1="527.35" x2="285.8" y2="527.35" stroke="#231f20" stroke-width="0.9"/>
<line x1="284.1" y1="524.3" x2="285.8" y2="524.3" stroke="#231f20" stroke-width="0.9"/>
<line x1="284.1" y1="521.25" x2="285.8" y2="521.25" stroke="#231f20" stroke-width="0.9"/>
<line x1="282.6" y1="518.2" x2="285.8" y2="518.2" stroke="#231f20" stroke-width="0.8"/>
<text transform="translate(279 521.24) scale(0.85 1)" font-size="8.48" text-anchor="end" fill="#231f20" stroke="#231f20" stroke-width="0.3">80</text>
<line x1="284.1" y1="515.15" x2="285.8" y2="515.15" stroke="#231f20" stroke-width="0.9"/>
<line x1="284.1" y1="512.1" x2="285.8" y2="512.1" stroke="#231f20" stroke-width="0.9"/>
<line x1="284.1" y1="509.05" x2="285.8" y2="509.05" stroke="#231f20" stroke-width="0.9"/>
<line x1="282.6" y1="506" x2="285.8" y2="506" stroke="#231f20" stroke-width="0.8"/>
<text transform="translate(279 509.04) scale(0.85 1)" font-size="8.48" text-anchor="end" fill="#231f20" stroke="#231f20" stroke-width="0.3">100</text>
<line x1="286.4" y1="567.3" x2="286.4" y2="570" stroke="#231f20" stroke-width="0.8"/>
<line x1="292.86" y1="567.3" x2="292.86" y2="568.7" stroke="#231f20" stroke-width="0.6"/>
<line x1="296.64" y1="567.3" x2="296.64" y2="568.7" stroke="#231f20" stroke-width="0.6"/>
<line x1="299.32" y1="567.3" x2="299.32" y2="568.7" stroke="#231f20" stroke-width="0.6"/>
<line x1="301.4" y1="567.3" x2="301.4" y2="568.7" stroke="#231f20" stroke-width="0.6"/>
<line x1="303.1" y1="567.3" x2="303.1" y2="568.7" stroke="#231f20" stroke-width="0.6"/>
<line x1="304.54" y1="567.3" x2="304.54" y2="568.7" stroke="#231f20" stroke-width="0.6"/>
<line x1="305.79" y1="567.3" x2="305.79" y2="568.7" stroke="#231f20" stroke-width="0.6"/>
<line x1="306.88" y1="567.3" x2="306.88" y2="568.7" stroke="#231f20" stroke-width="0.6"/>
<line x1="307.87" y1="567.3" x2="307.87" y2="570" stroke="#231f20" stroke-width="0.8"/>
<line x1="314.33" y1="567.3" x2="314.33" y2="568.7" stroke="#231f20" stroke-width="0.6"/>
<line x1="318.11" y1="567.3" x2="318.11" y2="568.7" stroke="#231f20" stroke-width="0.6"/>
<line x1="320.79" y1="567.3" x2="320.79" y2="568.7" stroke="#231f20" stroke-width="0.6"/>
<line x1="322.87" y1="567.3" x2="322.87" y2="568.7" stroke="#231f20" stroke-width="0.6"/>
<line x1="324.57" y1="567.3" x2="324.57" y2="568.7" stroke="#231f20" stroke-width="0.6"/>
<line x1="326.01" y1="567.3" x2="326.01" y2="568.7" stroke="#231f20" stroke-width="0.6"/>
<line x1="327.25" y1="567.3" x2="327.25" y2="568.7" stroke="#231f20" stroke-width="0.6"/>
<line x1="328.35" y1="567.3" x2="328.35" y2="568.7" stroke="#231f20" stroke-width="0.6"/>
<line x1="329.33" y1="567.3" x2="329.33" y2="570" stroke="#231f20" stroke-width="0.8"/>
<line x1="335.8" y1="567.3" x2="335.8" y2="568.7" stroke="#231f20" stroke-width="0.6"/>
<line x1="339.58" y1="567.3" x2="339.58" y2="568.7" stroke="#231f20" stroke-width="0.6"/>
<line x1="342.26" y1="567.3" x2="342.26" y2="568.7" stroke="#231f20" stroke-width="0.6"/>
<line x1="344.34" y1="567.3" x2="344.34" y2="568.7" stroke="#231f20" stroke-width="0.6"/>
<line x1="346.04" y1="567.3" x2="346.04" y2="568.7" stroke="#231f20" stroke-width="0.6"/>
<line x1="347.47" y1="567.3" x2="347.47" y2="568.7" stroke="#231f20" stroke-width="0.6"/>
<line x1="348.72" y1="567.3" x2="348.72" y2="568.7" stroke="#231f20" stroke-width="0.6"/>
<line x1="349.82" y1="567.3" x2="349.82" y2="568.7" stroke="#231f20" stroke-width="0.6"/>
<line x1="350.8" y1="567.3" x2="350.8" y2="570" stroke="#231f20" stroke-width="0.8"/>
<text transform="translate(285.4 580.64) scale(0.85 1)" font-size="8.48" text-anchor="middle" fill="#231f20" stroke="#231f20" stroke-width="0.3">10</text>
<text transform="translate(290 577.7) scale(0.85 1)" font-size="5.3" text-anchor="start" fill="#231f20" stroke="#231f20" stroke-width="0.3">1</text>
<text transform="translate(306.87 580.64) scale(0.85 1)" font-size="8.48" text-anchor="middle" fill="#231f20" stroke="#231f20" stroke-width="0.3">10</text>
<text transform="translate(311.47 577.7) scale(0.85 1)" font-size="5.3" text-anchor="start" fill="#231f20" stroke="#231f20" stroke-width="0.3">2</text>
<text transform="translate(328.33 580.64) scale(0.85 1)" font-size="8.48" text-anchor="middle" fill="#231f20" stroke="#231f20" stroke-width="0.3">10</text>
<text transform="translate(332.93 577.7) scale(0.85 1)" font-size="5.3" text-anchor="start" fill="#231f20" stroke="#231f20" stroke-width="0.3">3</text>
<text transform="translate(349.8 580.64) scale(0.85 1)" font-size="8.48" text-anchor="middle" fill="#231f20" stroke="#231f20" stroke-width="0.3">10</text>
<text transform="translate(354.4 577.7) scale(0.85 1)" font-size="5.3" text-anchor="start" fill="#231f20" stroke="#231f20" stroke-width="0.3">4</text>
<path d="M286.5 567.4 L313.9 567.4 L316.9 565.8 L320.3 564.4 L321.8 561.9 L322.8 555 L323.8 546.2 L324.7 540.3 L326.2 536.4 L327.2 532.4 L327.9 522.6 L328.7 509.8 L329.7 513.8 L331.1 520.6 L332.4 527.5 L333.6 537.3 L334.8 547.2 L336.3 556 L338.5 562.9 L340.5 566 L342.4 567.4 L350.3 567.4" stroke="#a8323f" stroke-width="1.15" fill="none" stroke-linejoin="round"/>
<path d="M286.5 567.4 L322.8 567.4 L324.7 566.8 L326.7 562.9 L328.7 559 L330.1 557 L330.8 549.1 L331.6 534.4 L332.6 521.6 L333.6 511.8 L334.6 506.4 L335.4 506.9 L336 514.7 L336.7 527.5 L337.5 537.3 L338.7 544.2 L340 550.1 L341 557 L341.9 563.8 L342.9 567.4 L350.3 567.4" stroke="#5b9fd6" stroke-width="1.15" fill="none" stroke-linejoin="round"/>
<rect x="189.8" y="586.9" width="64.8" height="64.7" fill="none" stroke="#231f20" stroke-width="1.3"/>
<line x1="186.6" y1="651.3" x2="189.8" y2="651.3" stroke="#231f20" stroke-width="0.8"/>
<text transform="translate(182.4 654.34) scale(0.85 1)" font-size="8.48" text-anchor="end" fill="#231f20" stroke="#231f20" stroke-width="0.3">0</text>
<line x1="188.1" y1="648.25" x2="189.8" y2="648.25" stroke="#231f20" stroke-width="0.9"/>
<line x1="188.1" y1="645.2" x2="189.8" y2="645.2" stroke="#231f20" stroke-width="0.9"/>
<line x1="188.1" y1="642.15" x2="189.8" y2="642.15" stroke="#231f20" stroke-width="0.9"/>
<line x1="186.6" y1="639.1" x2="189.8" y2="639.1" stroke="#231f20" stroke-width="0.8"/>
<text transform="translate(182.4 642.14) scale(0.85 1)" font-size="8.48" text-anchor="end" fill="#231f20" stroke="#231f20" stroke-width="0.3">20</text>
<line x1="188.1" y1="636.05" x2="189.8" y2="636.05" stroke="#231f20" stroke-width="0.9"/>
<line x1="188.1" y1="633" x2="189.8" y2="633" stroke="#231f20" stroke-width="0.9"/>
<line x1="188.1" y1="629.95" x2="189.8" y2="629.95" stroke="#231f20" stroke-width="0.9"/>
<line x1="186.6" y1="626.9" x2="189.8" y2="626.9" stroke="#231f20" stroke-width="0.8"/>
<text transform="translate(182.4 629.94) scale(0.85 1)" font-size="8.48" text-anchor="end" fill="#231f20" stroke="#231f20" stroke-width="0.3">40</text>
<line x1="188.1" y1="623.85" x2="189.8" y2="623.85" stroke="#231f20" stroke-width="0.9"/>
<line x1="188.1" y1="620.8" x2="189.8" y2="620.8" stroke="#231f20" stroke-width="0.9"/>
<line x1="188.1" y1="617.75" x2="189.8" y2="617.75" stroke="#231f20" stroke-width="0.9"/>
<line x1="186.6" y1="614.7" x2="189.8" y2="614.7" stroke="#231f20" stroke-width="0.8"/>
<text transform="translate(182.4 617.74) scale(0.85 1)" font-size="8.48" text-anchor="end" fill="#231f20" stroke="#231f20" stroke-width="0.3">60</text>
<line x1="188.1" y1="611.65" x2="189.8" y2="611.65" stroke="#231f20" stroke-width="0.9"/>
<line x1="188.1" y1="608.6" x2="189.8" y2="608.6" stroke="#231f20" stroke-width="0.9"/>
<line x1="188.1" y1="605.55" x2="189.8" y2="605.55" stroke="#231f20" stroke-width="0.9"/>
<line x1="186.6" y1="602.5" x2="189.8" y2="602.5" stroke="#231f20" stroke-width="0.8"/>
<text transform="translate(182.4 605.54) scale(0.85 1)" font-size="8.48" text-anchor="end" fill="#231f20" stroke="#231f20" stroke-width="0.3">80</text>
<line x1="188.1" y1="599.45" x2="189.8" y2="599.45" stroke="#231f20" stroke-width="0.9"/>
<line x1="188.1" y1="596.4" x2="189.8" y2="596.4" stroke="#231f20" stroke-width="0.9"/>
<line x1="188.1" y1="593.35" x2="189.8" y2="593.35" stroke="#231f20" stroke-width="0.9"/>
<line x1="186.6" y1="590.3" x2="189.8" y2="590.3" stroke="#231f20" stroke-width="0.8"/>
<text transform="translate(182.4 593.34) scale(0.85 1)" font-size="8.48" text-anchor="end" fill="#231f20" stroke="#231f20" stroke-width="0.3">100</text>
<line x1="190.4" y1="651.6" x2="190.4" y2="654.3" stroke="#231f20" stroke-width="0.8"/>
<line x1="196.84" y1="651.6" x2="196.84" y2="653" stroke="#231f20" stroke-width="0.6"/>
<line x1="200.61" y1="651.6" x2="200.61" y2="653" stroke="#231f20" stroke-width="0.6"/>
<line x1="203.28" y1="651.6" x2="203.28" y2="653" stroke="#231f20" stroke-width="0.6"/>
<line x1="205.36" y1="651.6" x2="205.36" y2="653" stroke="#231f20" stroke-width="0.6"/>
<line x1="207.05" y1="651.6" x2="207.05" y2="653" stroke="#231f20" stroke-width="0.6"/>
<line x1="208.49" y1="651.6" x2="208.49" y2="653" stroke="#231f20" stroke-width="0.6"/>
<line x1="209.73" y1="651.6" x2="209.73" y2="653" stroke="#231f20" stroke-width="0.6"/>
<line x1="210.82" y1="651.6" x2="210.82" y2="653" stroke="#231f20" stroke-width="0.6"/>
<line x1="211.8" y1="651.6" x2="211.8" y2="654.3" stroke="#231f20" stroke-width="0.8"/>
<line x1="218.24" y1="651.6" x2="218.24" y2="653" stroke="#231f20" stroke-width="0.6"/>
<line x1="222.01" y1="651.6" x2="222.01" y2="653" stroke="#231f20" stroke-width="0.6"/>
<line x1="224.68" y1="651.6" x2="224.68" y2="653" stroke="#231f20" stroke-width="0.6"/>
<line x1="226.76" y1="651.6" x2="226.76" y2="653" stroke="#231f20" stroke-width="0.6"/>
<line x1="228.45" y1="651.6" x2="228.45" y2="653" stroke="#231f20" stroke-width="0.6"/>
<line x1="229.89" y1="651.6" x2="229.89" y2="653" stroke="#231f20" stroke-width="0.6"/>
<line x1="231.13" y1="651.6" x2="231.13" y2="653" stroke="#231f20" stroke-width="0.6"/>
<line x1="232.22" y1="651.6" x2="232.22" y2="653" stroke="#231f20" stroke-width="0.6"/>
<line x1="233.2" y1="651.6" x2="233.2" y2="654.3" stroke="#231f20" stroke-width="0.8"/>
<line x1="239.64" y1="651.6" x2="239.64" y2="653" stroke="#231f20" stroke-width="0.6"/>
<line x1="243.41" y1="651.6" x2="243.41" y2="653" stroke="#231f20" stroke-width="0.6"/>
<line x1="246.08" y1="651.6" x2="246.08" y2="653" stroke="#231f20" stroke-width="0.6"/>
<line x1="248.16" y1="651.6" x2="248.16" y2="653" stroke="#231f20" stroke-width="0.6"/>
<line x1="249.85" y1="651.6" x2="249.85" y2="653" stroke="#231f20" stroke-width="0.6"/>
<line x1="251.29" y1="651.6" x2="251.29" y2="653" stroke="#231f20" stroke-width="0.6"/>
<line x1="252.53" y1="651.6" x2="252.53" y2="653" stroke="#231f20" stroke-width="0.6"/>
<line x1="253.62" y1="651.6" x2="253.62" y2="653" stroke="#231f20" stroke-width="0.6"/>
<line x1="254.6" y1="651.6" x2="254.6" y2="654.3" stroke="#231f20" stroke-width="0.8"/>
<text transform="translate(189.4 665.24) scale(0.85 1)" font-size="8.48" text-anchor="middle" fill="#231f20" stroke="#231f20" stroke-width="0.3">10</text>
<text transform="translate(194 662.3) scale(0.85 1)" font-size="5.3" text-anchor="start" fill="#231f20" stroke="#231f20" stroke-width="0.3">1</text>
<text transform="translate(210.8 665.24) scale(0.85 1)" font-size="8.48" text-anchor="middle" fill="#231f20" stroke="#231f20" stroke-width="0.3">10</text>
<text transform="translate(215.4 662.3) scale(0.85 1)" font-size="5.3" text-anchor="start" fill="#231f20" stroke="#231f20" stroke-width="0.3">2</text>
<text transform="translate(232.2 665.24) scale(0.85 1)" font-size="8.48" text-anchor="middle" fill="#231f20" stroke="#231f20" stroke-width="0.3">10</text>
<text transform="translate(236.8 662.3) scale(0.85 1)" font-size="5.3" text-anchor="start" fill="#231f20" stroke="#231f20" stroke-width="0.3">3</text>
<text transform="translate(253.6 665.24) scale(0.85 1)" font-size="8.48" text-anchor="middle" fill="#231f20" stroke="#231f20" stroke-width="0.3">10</text>
<text transform="translate(258.2 662.3) scale(0.85 1)" font-size="5.3" text-anchor="start" fill="#231f20" stroke="#231f20" stroke-width="0.3">4</text>
<path d="M190.5 651.6 C192.3 651.57 198.78 651.67 201.3 651.4 C203.82 651.13 204.18 650.67 205.6 650 C207.02 649.33 208.57 648.45 209.8 647.4 C211.03 646.35 211.99 645.28 213 643.7 C214.01 642.12 215.03 639.93 215.85 637.9 C216.67 635.87 217.23 633.97 217.95 631.5 C218.67 629.03 219.43 625.73 220.15 623.1 C220.87 620.47 221.55 618.17 222.25 615.7 C222.95 613.23 223.65 610.95 224.35 608.3 C225.05 605.65 225.84 601.92 226.45 599.8 C227.06 597.68 227.55 596.13 228 595.6 C228.45 595.07 228.69 595.55 229.15 596.6 C229.61 597.65 230.32 599.78 230.75 601.9 C231.18 604.02 231.37 606.3 231.75 609.3 C232.13 612.3 232.6 616.37 233.05 619.9 C233.5 623.43 233.92 627.15 234.45 630.5 C234.97 633.85 235.54 637.18 236.2 640 C236.86 642.82 237.52 645.55 238.4 647.4 C239.28 649.25 238.9 650.4 241.5 651.1 C244.1 651.8 251.92 651.52 254 651.6" stroke="#a8323f" stroke-width="1.15" fill="none" stroke-linejoin="round" stroke-dasharray="3.2 1.2"/>
<path d="M190.5 651.6 C192.3 651.57 198.78 651.67 201.3 651.4 C203.82 651.13 204.18 650.67 205.6 650 C207.02 649.33 208.57 648.45 209.8 647.4 C211.03 646.35 212.03 645.28 213 643.7 C213.97 642.12 214.82 639.93 215.6 637.9 C216.38 635.87 216.98 633.97 217.7 631.5 C218.42 629.03 219.18 625.73 219.9 623.1 C220.62 620.47 221.3 618.17 222 615.7 C222.7 613.23 223.4 610.95 224.1 608.3 C224.8 605.65 225.55 602.45 226.2 599.8 C226.85 597.15 227.47 592.93 228 592.4 C228.53 591.87 228.9 595.02 229.4 596.6 C229.9 598.18 230.57 599.78 231 601.9 C231.43 604.02 231.62 606.3 232 609.3 C232.38 612.3 232.85 616.37 233.3 619.9 C233.75 623.43 234.22 627.15 234.7 630.5 C235.18 633.85 235.58 637.18 236.2 640 C236.82 642.82 237.52 645.55 238.4 647.4 C239.28 649.25 238.9 650.4 241.5 651.1 C244.1 651.8 251.92 651.52 254 651.6" stroke="#5b9fd6" stroke-width="1.15" fill="none" stroke-linejoin="round"/>
<rect x="285.8" y="586.9" width="65" height="64.7" fill="none" stroke="#231f20" stroke-width="1.3"/>
<line x1="282.6" y1="651.3" x2="285.8" y2="651.3" stroke="#231f20" stroke-width="0.8"/>
<text transform="translate(279 654.34) scale(0.85 1)" font-size="8.48" text-anchor="end" fill="#231f20" stroke="#231f20" stroke-width="0.3">0</text>
<line x1="284.1" y1="648.25" x2="285.8" y2="648.25" stroke="#231f20" stroke-width="0.9"/>
<line x1="284.1" y1="645.2" x2="285.8" y2="645.2" stroke="#231f20" stroke-width="0.9"/>
<line x1="284.1" y1="642.15" x2="285.8" y2="642.15" stroke="#231f20" stroke-width="0.9"/>
<line x1="282.6" y1="639.1" x2="285.8" y2="639.1" stroke="#231f20" stroke-width="0.8"/>
<text transform="translate(279 642.14) scale(0.85 1)" font-size="8.48" text-anchor="end" fill="#231f20" stroke="#231f20" stroke-width="0.3">20</text>
<line x1="284.1" y1="636.05" x2="285.8" y2="636.05" stroke="#231f20" stroke-width="0.9"/>
<line x1="284.1" y1="633" x2="285.8" y2="633" stroke="#231f20" stroke-width="0.9"/>
<line x1="284.1" y1="629.95" x2="285.8" y2="629.95" stroke="#231f20" stroke-width="0.9"/>
<line x1="282.6" y1="626.9" x2="285.8" y2="626.9" stroke="#231f20" stroke-width="0.8"/>
<text transform="translate(279 629.94) scale(0.85 1)" font-size="8.48" text-anchor="end" fill="#231f20" stroke="#231f20" stroke-width="0.3">40</text>
<line x1="284.1" y1="623.85" x2="285.8" y2="623.85" stroke="#231f20" stroke-width="0.9"/>
<line x1="284.1" y1="620.8" x2="285.8" y2="620.8" stroke="#231f20" stroke-width="0.9"/>
<line x1="284.1" y1="617.75" x2="285.8" y2="617.75" stroke="#231f20" stroke-width="0.9"/>
<line x1="282.6" y1="614.7" x2="285.8" y2="614.7" stroke="#231f20" stroke-width="0.8"/>
<text transform="translate(279 617.74) scale(0.85 1)" font-size="8.48" text-anchor="end" fill="#231f20" stroke="#231f20" stroke-width="0.3">60</text>
<line x1="284.1" y1="611.65" x2="285.8" y2="611.65" stroke="#231f20" stroke-width="0.9"/>
<line x1="284.1" y1="608.6" x2="285.8" y2="608.6" stroke="#231f20" stroke-width="0.9"/>
<line x1="284.1" y1="605.55" x2="285.8" y2="605.55" stroke="#231f20" stroke-width="0.9"/>
<line x1="282.6" y1="602.5" x2="285.8" y2="602.5" stroke="#231f20" stroke-width="0.8"/>
<text transform="translate(279 605.54) scale(0.85 1)" font-size="8.48" text-anchor="end" fill="#231f20" stroke="#231f20" stroke-width="0.3">80</text>
<line x1="284.1" y1="599.45" x2="285.8" y2="599.45" stroke="#231f20" stroke-width="0.9"/>
<line x1="284.1" y1="596.4" x2="285.8" y2="596.4" stroke="#231f20" stroke-width="0.9"/>
<line x1="284.1" y1="593.35" x2="285.8" y2="593.35" stroke="#231f20" stroke-width="0.9"/>
<line x1="282.6" y1="590.3" x2="285.8" y2="590.3" stroke="#231f20" stroke-width="0.8"/>
<text transform="translate(279 593.34) scale(0.85 1)" font-size="8.48" text-anchor="end" fill="#231f20" stroke="#231f20" stroke-width="0.3">100</text>
<line x1="286.4" y1="651.6" x2="286.4" y2="654.3" stroke="#231f20" stroke-width="0.8"/>
<line x1="292.86" y1="651.6" x2="292.86" y2="653" stroke="#231f20" stroke-width="0.6"/>
<line x1="296.64" y1="651.6" x2="296.64" y2="653" stroke="#231f20" stroke-width="0.6"/>
<line x1="299.32" y1="651.6" x2="299.32" y2="653" stroke="#231f20" stroke-width="0.6"/>
<line x1="301.4" y1="651.6" x2="301.4" y2="653" stroke="#231f20" stroke-width="0.6"/>
<line x1="303.1" y1="651.6" x2="303.1" y2="653" stroke="#231f20" stroke-width="0.6"/>
<line x1="304.54" y1="651.6" x2="304.54" y2="653" stroke="#231f20" stroke-width="0.6"/>
<line x1="305.79" y1="651.6" x2="305.79" y2="653" stroke="#231f20" stroke-width="0.6"/>
<line x1="306.88" y1="651.6" x2="306.88" y2="653" stroke="#231f20" stroke-width="0.6"/>
<line x1="307.87" y1="651.6" x2="307.87" y2="654.3" stroke="#231f20" stroke-width="0.8"/>
<line x1="314.33" y1="651.6" x2="314.33" y2="653" stroke="#231f20" stroke-width="0.6"/>
<line x1="318.11" y1="651.6" x2="318.11" y2="653" stroke="#231f20" stroke-width="0.6"/>
<line x1="320.79" y1="651.6" x2="320.79" y2="653" stroke="#231f20" stroke-width="0.6"/>
<line x1="322.87" y1="651.6" x2="322.87" y2="653" stroke="#231f20" stroke-width="0.6"/>
<line x1="324.57" y1="651.6" x2="324.57" y2="653" stroke="#231f20" stroke-width="0.6"/>
<line x1="326.01" y1="651.6" x2="326.01" y2="653" stroke="#231f20" stroke-width="0.6"/>
<line x1="327.25" y1="651.6" x2="327.25" y2="653" stroke="#231f20" stroke-width="0.6"/>
<line x1="328.35" y1="651.6" x2="328.35" y2="653" stroke="#231f20" stroke-width="0.6"/>
<line x1="329.33" y1="651.6" x2="329.33" y2="654.3" stroke="#231f20" stroke-width="0.8"/>
<line x1="335.8" y1="651.6" x2="335.8" y2="653" stroke="#231f20" stroke-width="0.6"/>
<line x1="339.58" y1="651.6" x2="339.58" y2="653" stroke="#231f20" stroke-width="0.6"/>
<line x1="342.26" y1="651.6" x2="342.26" y2="653" stroke="#231f20" stroke-width="0.6"/>
<line x1="344.34" y1="651.6" x2="344.34" y2="653" stroke="#231f20" stroke-width="0.6"/>
<line x1="346.04" y1="651.6" x2="346.04" y2="653" stroke="#231f20" stroke-width="0.6"/>
<line x1="347.47" y1="651.6" x2="347.47" y2="653" stroke="#231f20" stroke-width="0.6"/>
<line x1="348.72" y1="651.6" x2="348.72" y2="653" stroke="#231f20" stroke-width="0.6"/>
<line x1="349.82" y1="651.6" x2="349.82" y2="653" stroke="#231f20" stroke-width="0.6"/>
<line x1="350.8" y1="651.6" x2="350.8" y2="654.3" stroke="#231f20" stroke-width="0.8"/>
<text transform="translate(285.4 665.24) scale(0.85 1)" font-size="8.48" text-anchor="middle" fill="#231f20" stroke="#231f20" stroke-width="0.3">10</text>
<text transform="translate(290 662.3) scale(0.85 1)" font-size="5.3" text-anchor="start" fill="#231f20" stroke="#231f20" stroke-width="0.3">1</text>
<text transform="translate(306.87 665.24) scale(0.85 1)" font-size="8.48" text-anchor="middle" fill="#231f20" stroke="#231f20" stroke-width="0.3">10</text>
<text transform="translate(311.47 662.3) scale(0.85 1)" font-size="5.3" text-anchor="start" fill="#231f20" stroke="#231f20" stroke-width="0.3">2</text>
<text transform="translate(328.33 665.24) scale(0.85 1)" font-size="8.48" text-anchor="middle" fill="#231f20" stroke="#231f20" stroke-width="0.3">10</text>
<text transform="translate(332.93 662.3) scale(0.85 1)" font-size="5.3" text-anchor="start" fill="#231f20" stroke="#231f20" stroke-width="0.3">3</text>
<text transform="translate(349.8 665.24) scale(0.85 1)" font-size="8.48" text-anchor="middle" fill="#231f20" stroke="#231f20" stroke-width="0.3">10</text>
<text transform="translate(354.4 662.3) scale(0.85 1)" font-size="5.3" text-anchor="start" fill="#231f20" stroke="#231f20" stroke-width="0.3">4</text>
<path d="M286.5 651.6 L301.3 650 L304.5 647.4 L306.6 645.3 L308.8 640.5 L310.9 634.7 L312.5 630.5 L314 624.1 L315.6 613.6 L316.7 610.4 L317.7 603 L318.8 599.8 L320.4 596.6 L321.4 592.9 L322.7 600.9 L324.1 607.2 L325.9 612.5 L327.3 619.9 L328.8 629.4 L330.4 637.9 L332.2 645.3 L334.7 650 L337.3 651.6 L350.3 651.6" stroke="#a8323f" stroke-width="1.15" fill="none" stroke-linejoin="round"/>
<path d="M286.5 651.6 C289.15 651.25 298.87 650.73 302.4 649.5 C305.93 648.27 306.12 646.13 307.7 644.2 C309.28 642.27 310.67 640.18 311.9 637.9 C313.13 635.62 314.13 633.15 315.1 630.5 C316.07 627.85 316.9 624.82 317.7 622 C318.5 619.18 319.18 616.6 319.9 613.6 C320.62 610.6 321.38 606.83 322 604 C322.62 601.17 322.98 598.8 323.6 596.6 C324.22 594.4 325.08 591.15 325.7 590.8 C326.32 590.45 326.82 592.65 327.3 594.5 C327.78 596.35 328.17 598.9 328.6 601.9 C329.03 604.9 329.47 608.62 329.9 612.5 C330.33 616.38 330.77 621.32 331.2 625.2 C331.63 629.08 332.02 632.63 332.5 635.8 C332.98 638.97 333.38 641.83 334.1 644.2 C334.82 646.57 335.73 648.77 336.8 650 C337.87 651.23 338.25 651.33 340.5 651.6 C342.75 651.87 348.67 651.6 350.3 651.6" stroke="#5b9fd6" stroke-width="1.15" fill="none" stroke-linejoin="round"/>
<text transform="translate(161.8 535.5) rotate(-90) scale(0.81 1)" x="0" y="3.57" font-size="9.96" text-anchor="middle" fill="#231f20" stroke="#231f20" stroke-width="0.3">DEL</text>
<text transform="translate(150.3 619.5) rotate(-90) scale(0.84 1)" x="0" y="3.57" font-size="9.96" text-anchor="middle" fill="#231f20" stroke="#231f20" stroke-width="0.3">Karpas-</text>
<text transform="translate(162 618.6) rotate(-90) scale(0.84 1)" x="0" y="3.57" font-size="9.96" text-anchor="middle" fill="#231f20" stroke="#231f20" stroke-width="0.3">299</text>
<line x1="187.6" y1="673.8" x2="342" y2="673.8" stroke="#231f20" stroke-width="1.4"/>
<path d="M340 669.9 L350.6 673.8 L340 677.7 Z" stroke="#231f20" stroke-width="0.3" fill="#231f20"/>
<text transform="translate(260 686.43) scale(0.84 1)" font-size="9.01" text-anchor="middle" fill="#231f20" stroke="#231f20" stroke-width="0.3">PD-L1</text>
<line x1="209.2" y1="693.9" x2="223.6" y2="693.9" stroke="#5b9fd6" stroke-width="1"/>
<line x1="209.2" y1="702.2" x2="223.6" y2="702.2" stroke="#a8323f" stroke-width="1"/>
<text transform="translate(225.7 696.86) scale(0.83 1)" font-size="8.27" text-anchor="start" fill="#231f20" stroke="#231f20" stroke-width="0.3">GFP- untranduced Cells</text>
<text transform="translate(225.7 705.16) scale(0.82 1)" font-size="8.27" text-anchor="start" fill="#231f20" stroke="#231f20" stroke-width="0.3">GFP+ shRNA transduced Cells</text>
<text transform="translate(376.3 491.85) scale(0.77 1)" font-size="12.72" text-anchor="start" fill="#231f20" stroke="#231f20" stroke-width="0.3">G</text>
<text transform="translate(424 516.84) scale(0.77 1)" font-size="8.48" text-anchor="middle" fill="#231f20" stroke="#231f20" stroke-width="0.3">DEL</text>
<text transform="translate(451.3 506.24) scale(0.82 1)" font-size="8.48" text-anchor="middle" fill="#231f20" stroke="#231f20" stroke-width="0.3">Karpas-</text>
<text transform="translate(451.3 516.84) scale(0.85 1)" font-size="8.48" text-anchor="middle" fill="#231f20" stroke="#231f20" stroke-width="0.3">299</text>
<path d="M412.7 524.8 V521.3 H436.3 V524.8" stroke="#231f20" stroke-width="0.8" fill="none"/>
<path d="M440 524.8 V521.3 H463.7 V524.8" stroke="#231f20" stroke-width="0.8" fill="none"/>
<text transform="translate(417.6 551.3) rotate(-90) scale(0.74 1)" x="0" y="2.96" font-size="8.27" text-anchor="start" fill="#231f20" stroke="#231f20" stroke-width="0.3">CTRL</text>
<text transform="translate(429.7 551.3) rotate(-90) scale(0.81 1)" x="0" y="2.96" font-size="8.27" text-anchor="start" fill="#231f20" stroke="#231f20" stroke-width="0.3">BATF3</text>
<text transform="translate(444.4 551.3) rotate(-90) scale(0.74 1)" x="0" y="2.96" font-size="8.27" text-anchor="start" fill="#231f20" stroke="#231f20" stroke-width="0.3">CTRL</text>
<text transform="translate(457.4 551.3) rotate(-90) scale(0.81 1)" x="0" y="2.96" font-size="8.27" text-anchor="start" fill="#231f20" stroke="#231f20" stroke-width="0.3">BATF3</text>
<text transform="translate(385 549.36) scale(0.84 1)" font-size="8.27" text-anchor="start" fill="#231f20" stroke="#231f20" stroke-width="0.3">shRNA:</text>
<rect x="410" y="554.75" width="55" height="31.75" fill="#e5e3e3"/>
<rect x="410" y="592.75" width="55" height="17" fill="#e7e5e5"/>
<rect x="410" y="614" width="55" height="17.9" fill="#e6e4e4"/>
<rect x="411.5" y="564" width="10.75" height="13.2" rx="2.5" fill="#0c0c0c" opacity="1" filter="url(#b3)"/>
<rect x="425" y="564.8" width="11.25" height="11.6" rx="2.5" fill="#4a4a4a" opacity="1" filter="url(#b3)"/>
<rect x="425" y="565.5" width="11.25" height="3" rx="1.5" fill="#2a2a2a" opacity="1" filter="url(#b3)"/>
<rect x="425" y="569.3" width="11.25" height="7" rx="2.5" fill="#0e0e0e" opacity="1" filter="url(#b3)"/>
<rect x="439.75" y="564.7" width="9.65" height="12.6" rx="2.5" fill="#5a5a5a" opacity="1" filter="url(#b3)"/>
<rect x="439.75" y="564.6" width="9.65" height="3" rx="1.5" fill="#151515" opacity="1" filter="url(#b3)"/>
<rect x="439.75" y="570.5" width="9.65" height="3.6" rx="1.8" fill="#151515" opacity="1" filter="url(#b3)"/>
<rect x="439.75" y="574.7" width="9.65" height="2.6" rx="1.3" fill="#2a2a2a" opacity="1" filter="url(#b3)"/>
<rect x="453.5" y="563.9" width="9.6" height="2.2" rx="1.1" fill="#a8a8a8" opacity="1" filter="url(#b1)"/>
<rect x="453.5" y="570" width="9.6" height="2.4" rx="1.2" fill="#aaaaaa" opacity="1" filter="url(#b1)"/>
<rect x="453.5" y="574.5" width="9.6" height="2.2" rx="1.1" fill="#bbbbbb" opacity="1" filter="url(#b1)"/>
<rect x="411.5" y="580.5" width="10.5" height="1.6" rx="0.8" fill="#c8c8c8" opacity="1" filter="url(#b1)"/>
<rect x="425" y="580.5" width="11" height="1.6" rx="0.8" fill="#c8c8c8" opacity="1" filter="url(#b1)"/>
<rect x="440" y="580.5" width="9.4" height="1.6" rx="0.8" fill="#c8c8c8" opacity="1" filter="url(#b1)"/>
<rect x="453.5" y="580.5" width="9.5" height="1.6" rx="0.8" fill="#c8c8c8" opacity="1" filter="url(#b1)"/>
<rect x="410.25" y="598.95" width="11.65" height="4.1" rx="2.05" fill="#0c0c0c" opacity="1" filter="url(#b3)"/>
<rect x="425.6" y="599.75" width="9.4" height="2.5" rx="1.25" fill="#333333" opacity="1" filter="url(#b3)"/>
<rect x="439" y="599" width="11.6" height="4.4" rx="2.2" fill="#0c0c0c" opacity="1" filter="url(#b3)"/>
<rect x="454" y="600.3" width="9" height="1.4" rx="0.7" fill="#d2d2d2" opacity="1" filter="url(#b1)"/>
<rect x="410.25" y="621" width="12" height="4.6" rx="2.3" fill="#0c0c0c" opacity="1" filter="url(#b3)"/>
<rect x="423.75" y="621" width="13.5" height="4.6" rx="2.3" fill="#0c0c0c" opacity="1" filter="url(#b3)"/>
<rect x="437.75" y="620.55" width="12.85" height="5.9" rx="2.5" fill="#0c0c0c" opacity="1" filter="url(#b3)"/>
<rect x="451.9" y="621" width="11.85" height="4.6" rx="2.3" fill="#0c0c0c" opacity="1" filter="url(#b3)"/>
<text transform="translate(468.1 575.86) scale(0.81 1)" font-size="9.12" text-anchor="start" fill="#231f20" stroke="#231f20" stroke-width="0.3">PD-L1</text>
<text transform="translate(468.1 604.86) scale(0.74 1)" font-size="9.12" text-anchor="start" fill="#231f20" stroke="#231f20" stroke-width="0.3">BATF3</text>
<text transform="translate(468.1 625.66) scale(0.85 1)" font-size="9.12" text-anchor="start" fill="#231f20" stroke="#231f20" stroke-width="0.3">β-Actin</text>
<rect x="0" y="0" width="520" height="1" fill="#111"/>
<rect x="0" y="0" width="1.2" height="713" fill="#111"/>
<rect x="518.2" y="0" width="1.8" height="713" fill="#3c3c3c"/>
<rect x="519.2" y="0" width="0.8" height="713" fill="#222"/>
<rect x="0" y="711.6" width="520" height="1.4" fill="#111"/>
</svg>
</body></html>
